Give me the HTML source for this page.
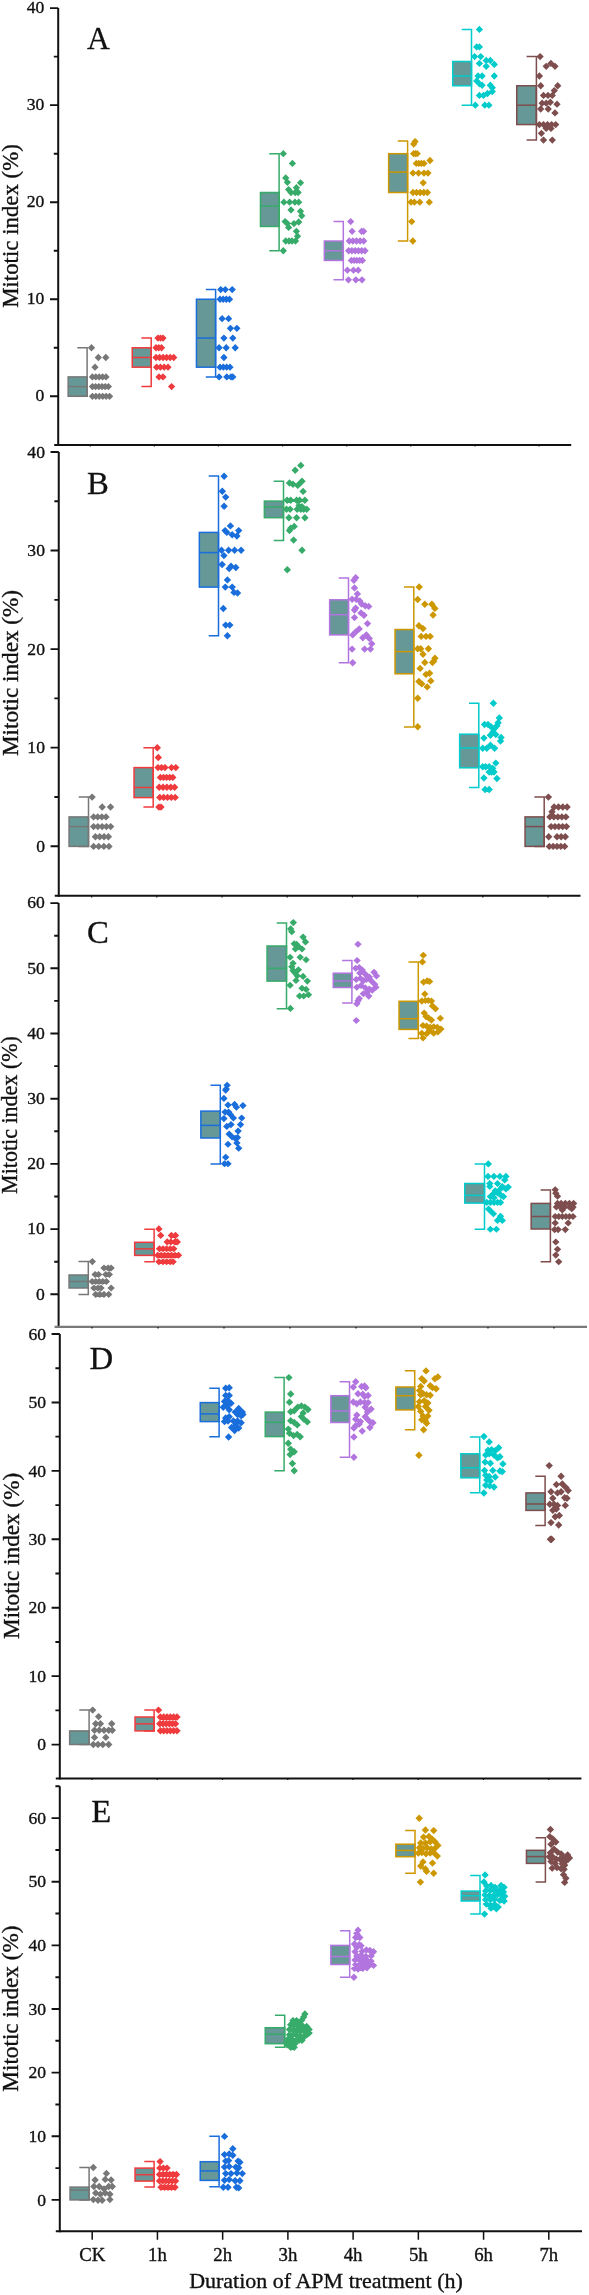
<!DOCTYPE html>
<html><head><meta charset="utf-8"><title>Mitotic index</title>
<style>
html,body{margin:0;padding:0;background:#fff;}
body{width:589px;height:2295px;overflow:hidden;}
svg{display:block;font-family:"Liberation Serif",serif;fill:#000;will-change:transform;}
svg text{fill:#111;stroke:#111;stroke-width:0.35px;}
svg text.L{stroke-width:0.3px;}
</style></head><body>
<svg width="589" height="2295" viewBox="0 0 589 2295">
<rect width="589" height="2295" fill="#fff"/>
<rect x="68.15" y="376.89" width="18.95" height="19.41" fill="#659896" stroke="#777777" stroke-width="1.5"/>
<path d="M68.15 386.6H87.1" stroke="#777777" stroke-width="1.5" fill="none"/>
<path d="M77.3 347.78H87.1V396.3H77.3" stroke="#777777" stroke-width="1.5" fill="none"/>
<path fill="#777777" d="M91.5 344.11l3.64 3.66 -3.64 3.66 -3.64 -3.66zM98.3 353.82l3.64 3.66 -3.64 3.66 -3.64 -3.66zM105.8 353.82l3.64 3.66 -3.64 3.66 -3.64 -3.66zM95 363.52l3.64 3.66 -3.64 3.66 -3.64 -3.66zM92.4 373.23l3.64 3.66 -3.64 3.66 -3.64 -3.66zM95.8 373.23l3.64 3.66 -3.64 3.66 -3.64 -3.66zM99.2 373.23l3.64 3.66 -3.64 3.66 -3.64 -3.66zM102.6 373.23l3.64 3.66 -3.64 3.66 -3.64 -3.66zM106 373.23l3.64 3.66 -3.64 3.66 -3.64 -3.66zM92.4 382.93l3.64 3.66 -3.64 3.66 -3.64 -3.66zM95.6 382.93l3.64 3.66 -3.64 3.66 -3.64 -3.66zM98.8 382.93l3.64 3.66 -3.64 3.66 -3.64 -3.66zM102 382.93l3.64 3.66 -3.64 3.66 -3.64 -3.66zM105.2 382.93l3.64 3.66 -3.64 3.66 -3.64 -3.66zM108.4 382.93l3.64 3.66 -3.64 3.66 -3.64 -3.66zM92.4 392.64l3.64 3.66 -3.64 3.66 -3.64 -3.66zM95.84 392.64l3.64 3.66 -3.64 3.66 -3.64 -3.66zM99.28 392.64l3.64 3.66 -3.64 3.66 -3.64 -3.66zM102.72 392.64l3.64 3.66 -3.64 3.66 -3.64 -3.66zM106.16 392.64l3.64 3.66 -3.64 3.66 -3.64 -3.66zM109.6 392.64l3.64 3.66 -3.64 3.66 -3.64 -3.66z"/>
<rect x="132.25" y="347.78" width="18.95" height="19.41" fill="#659896" stroke="#ef3b3d" stroke-width="1.5"/>
<path d="M132.25 357.48H151.2" stroke="#ef3b3d" stroke-width="1.5" fill="none"/>
<path d="M141.4 338.07H151.2V386.6H141.4" stroke="#ef3b3d" stroke-width="1.5" fill="none"/>
<path fill="#ef3b3d" d="M158 334.41l3.64 3.66 -3.64 3.66 -3.64 -3.66zM160.5 334.41l3.64 3.66 -3.64 3.66 -3.64 -3.66zM163 334.41l3.64 3.66 -3.64 3.66 -3.64 -3.66zM156 344.11l3.64 3.66 -3.64 3.66 -3.64 -3.66zM158.75 344.11l3.64 3.66 -3.64 3.66 -3.64 -3.66zM161.5 344.11l3.64 3.66 -3.64 3.66 -3.64 -3.66zM156 353.82l3.64 3.66 -3.64 3.66 -3.64 -3.66zM159.54 353.82l3.64 3.66 -3.64 3.66 -3.64 -3.66zM163.08 353.82l3.64 3.66 -3.64 3.66 -3.64 -3.66zM166.62 353.82l3.64 3.66 -3.64 3.66 -3.64 -3.66zM170.16 353.82l3.64 3.66 -3.64 3.66 -3.64 -3.66zM173.7 353.82l3.64 3.66 -3.64 3.66 -3.64 -3.66zM156.6 363.52l3.64 3.66 -3.64 3.66 -3.64 -3.66zM160.4 363.52l3.64 3.66 -3.64 3.66 -3.64 -3.66zM164.2 363.52l3.64 3.66 -3.64 3.66 -3.64 -3.66zM168 363.52l3.64 3.66 -3.64 3.66 -3.64 -3.66zM159 373.23l3.64 3.66 -3.64 3.66 -3.64 -3.66zM163 373.23l3.64 3.66 -3.64 3.66 -3.64 -3.66zM171.6 382.93l3.64 3.66 -3.64 3.66 -3.64 -3.66z"/>
<rect x="196.45" y="299.25" width="19.15" height="67.94" fill="#659896" stroke="#1a6edc" stroke-width="1.5"/>
<path d="M196.45 338.07H215.6" stroke="#1a6edc" stroke-width="1.5" fill="none"/>
<path d="M205.8 289.55H215.6V376.89H205.8" stroke="#1a6edc" stroke-width="1.5" fill="none"/>
<path fill="#1a6edc" d="M220.7 285.88l3.64 3.66 -3.64 3.66 -3.64 -3.66zM225.3 285.88l3.64 3.66 -3.64 3.66 -3.64 -3.66zM232.2 285.88l3.64 3.66 -3.64 3.66 -3.64 -3.66zM220 295.59l3.64 3.66 -3.64 3.66 -3.64 -3.66zM223.17 295.59l3.64 3.66 -3.64 3.66 -3.64 -3.66zM226.33 295.59l3.64 3.66 -3.64 3.66 -3.64 -3.66zM229.5 295.59l3.64 3.66 -3.64 3.66 -3.64 -3.66zM222.1 315l3.64 3.66 -3.64 3.66 -3.64 -3.66zM228.6 315l3.64 3.66 -3.64 3.66 -3.64 -3.66zM230.4 324.7l3.64 3.66 -3.64 3.66 -3.64 -3.66zM236.9 324.7l3.64 3.66 -3.64 3.66 -3.64 -3.66zM223.9 334.41l3.64 3.66 -3.64 3.66 -3.64 -3.66zM232.8 334.41l3.64 3.66 -3.64 3.66 -3.64 -3.66zM219.1 344.11l3.64 3.66 -3.64 3.66 -3.64 -3.66zM226.2 344.11l3.64 3.66 -3.64 3.66 -3.64 -3.66zM235.2 344.11l3.64 3.66 -3.64 3.66 -3.64 -3.66zM223.9 353.82l3.64 3.66 -3.64 3.66 -3.64 -3.66zM220 363.52l3.64 3.66 -3.64 3.66 -3.64 -3.66zM223.33 363.52l3.64 3.66 -3.64 3.66 -3.64 -3.66zM226.67 363.52l3.64 3.66 -3.64 3.66 -3.64 -3.66zM230 363.52l3.64 3.66 -3.64 3.66 -3.64 -3.66zM219.1 373.23l3.64 3.66 -3.64 3.66 -3.64 -3.66zM226.8 373.23l3.64 3.66 -3.64 3.66 -3.64 -3.66zM231 373.23l3.64 3.66 -3.64 3.66 -3.64 -3.66zM232.8 373.23l3.64 3.66 -3.64 3.66 -3.64 -3.66z"/>
<rect x="260.45" y="192.5" width="18.65" height="33.97" fill="#659896" stroke="#37ab69" stroke-width="1.5"/>
<path d="M260.45 206.08H279.1" stroke="#37ab69" stroke-width="1.5" fill="none"/>
<path d="M269.3 153.68H279.1V250.73H269.3" stroke="#37ab69" stroke-width="1.5" fill="none"/>
<path fill="#37ab69" d="M283.3 150.01l3.64 3.66 -3.64 3.66 -3.64 -3.66zM292.4 159.72l3.64 3.66 -3.64 3.66 -3.64 -3.66zM285.7 174.27l3.64 3.66 -3.64 3.66 -3.64 -3.66zM287.4 178.64l3.64 3.66 -3.64 3.66 -3.64 -3.66zM300.5 179.13l3.64 3.66 -3.64 3.66 -3.64 -3.66zM288.6 185.92l3.64 3.66 -3.64 3.66 -3.64 -3.66zM296.4 183.98l3.64 3.66 -3.64 3.66 -3.64 -3.66zM291 188.83l3.64 3.66 -3.64 3.66 -3.64 -3.66zM295.2 188.83l3.64 3.66 -3.64 3.66 -3.64 -3.66zM298.1 188.83l3.64 3.66 -3.64 3.66 -3.64 -3.66zM283.9 198.54l3.64 3.66 -3.64 3.66 -3.64 -3.66zM289.6 198.54l3.64 3.66 -3.64 3.66 -3.64 -3.66zM294.9 198.54l3.64 3.66 -3.64 3.66 -3.64 -3.66zM298.7 198.54l3.64 3.66 -3.64 3.66 -3.64 -3.66zM291 206.3l3.64 3.66 -3.64 3.66 -3.64 -3.66zM300.5 207.66l3.64 3.66 -3.64 3.66 -3.64 -3.66zM301.7 212.12l3.64 3.66 -3.64 3.66 -3.64 -3.66zM285.1 217.95l3.64 3.66 -3.64 3.66 -3.64 -3.66zM287.4 219.89l3.64 3.66 -3.64 3.66 -3.64 -3.66zM288.6 223.77l3.64 3.66 -3.64 3.66 -3.64 -3.66zM294 219.89l3.64 3.66 -3.64 3.66 -3.64 -3.66zM298.7 218.34l3.64 3.66 -3.64 3.66 -3.64 -3.66zM296.4 227.65l3.64 3.66 -3.64 3.66 -3.64 -3.66zM297.5 232.5l3.64 3.66 -3.64 3.66 -3.64 -3.66zM285.7 237.36l3.64 3.66 -3.64 3.66 -3.64 -3.66zM289 237.36l3.64 3.66 -3.64 3.66 -3.64 -3.66zM292 237.36l3.64 3.66 -3.64 3.66 -3.64 -3.66zM295.5 237.36l3.64 3.66 -3.64 3.66 -3.64 -3.66zM283.3 247.06l3.64 3.66 -3.64 3.66 -3.64 -3.66z"/>
<rect x="324.35" y="241.02" width="18.95" height="19.41" fill="#659896" stroke="#b274de" stroke-width="1.5"/>
<path d="M324.35 250.73H343.3" stroke="#b274de" stroke-width="1.5" fill="none"/>
<path d="M333.5 221.61H343.3V279.84H333.5" stroke="#b274de" stroke-width="1.5" fill="none"/>
<path fill="#b274de" d="M350.7 217.95l3.64 3.66 -3.64 3.66 -3.64 -3.66zM352.1 227.65l3.64 3.66 -3.64 3.66 -3.64 -3.66zM361.6 227.65l3.64 3.66 -3.64 3.66 -3.64 -3.66zM363.6 227.65l3.64 3.66 -3.64 3.66 -3.64 -3.66zM349.3 237.36l3.64 3.66 -3.64 3.66 -3.64 -3.66zM352.9 237.36l3.64 3.66 -3.64 3.66 -3.64 -3.66zM356.5 237.36l3.64 3.66 -3.64 3.66 -3.64 -3.66zM360.1 237.36l3.64 3.66 -3.64 3.66 -3.64 -3.66zM363.7 237.36l3.64 3.66 -3.64 3.66 -3.64 -3.66zM348.6 247.06l3.64 3.66 -3.64 3.66 -3.64 -3.66zM351.88 247.06l3.64 3.66 -3.64 3.66 -3.64 -3.66zM355.16 247.06l3.64 3.66 -3.64 3.66 -3.64 -3.66zM358.44 247.06l3.64 3.66 -3.64 3.66 -3.64 -3.66zM361.72 247.06l3.64 3.66 -3.64 3.66 -3.64 -3.66zM365 247.06l3.64 3.66 -3.64 3.66 -3.64 -3.66zM351.3 256.77l3.64 3.66 -3.64 3.66 -3.64 -3.66zM354.07 256.77l3.64 3.66 -3.64 3.66 -3.64 -3.66zM356.85 256.77l3.64 3.66 -3.64 3.66 -3.64 -3.66zM359.62 256.77l3.64 3.66 -3.64 3.66 -3.64 -3.66zM362.4 256.77l3.64 3.66 -3.64 3.66 -3.64 -3.66zM347.4 266.47l3.64 3.66 -3.64 3.66 -3.64 -3.66zM353.5 266.47l3.64 3.66 -3.64 3.66 -3.64 -3.66zM358.2 266.47l3.64 3.66 -3.64 3.66 -3.64 -3.66zM348.4 276.18l3.64 3.66 -3.64 3.66 -3.64 -3.66zM355.8 276.18l3.64 3.66 -3.64 3.66 -3.64 -3.66zM362 276.18l3.64 3.66 -3.64 3.66 -3.64 -3.66z"/>
<rect x="388.65" y="153.68" width="18.95" height="38.82" fill="#659896" stroke="#cd9700" stroke-width="1.5"/>
<path d="M388.65 172.11H407.6" stroke="#cd9700" stroke-width="1.5" fill="none"/>
<path d="M397.8 141.06H407.6V241.02H397.8" stroke="#cd9700" stroke-width="1.5" fill="none"/>
<path fill="#cd9700" d="M415.1 137.88l3.64 3.66 -3.64 3.66 -3.64 -3.66zM413.7 140.31l3.64 3.66 -3.64 3.66 -3.64 -3.66zM413.6 150.01l3.64 3.66 -3.64 3.66 -3.64 -3.66zM415.4 150.01l3.64 3.66 -3.64 3.66 -3.64 -3.66zM417.2 150.01l3.64 3.66 -3.64 3.66 -3.64 -3.66zM430 156.81l3.64 3.66 -3.64 3.66 -3.64 -3.66zM416.3 159.72l3.64 3.66 -3.64 3.66 -3.64 -3.66zM418.87 159.72l3.64 3.66 -3.64 3.66 -3.64 -3.66zM421.43 159.72l3.64 3.66 -3.64 3.66 -3.64 -3.66zM424 159.72l3.64 3.66 -3.64 3.66 -3.64 -3.66zM413 169.42l3.64 3.66 -3.64 3.66 -3.64 -3.66zM418.5 169.42l3.64 3.66 -3.64 3.66 -3.64 -3.66zM424 169.42l3.64 3.66 -3.64 3.66 -3.64 -3.66zM428 169.42l3.64 3.66 -3.64 3.66 -3.64 -3.66zM423.2 179.13l3.64 3.66 -3.64 3.66 -3.64 -3.66zM413 188.83l3.64 3.66 -3.64 3.66 -3.64 -3.66zM416.6 188.83l3.64 3.66 -3.64 3.66 -3.64 -3.66zM420.2 188.83l3.64 3.66 -3.64 3.66 -3.64 -3.66zM423.8 188.83l3.64 3.66 -3.64 3.66 -3.64 -3.66zM427.4 188.83l3.64 3.66 -3.64 3.66 -3.64 -3.66zM411 198.54l3.64 3.66 -3.64 3.66 -3.64 -3.66zM414.4 198.54l3.64 3.66 -3.64 3.66 -3.64 -3.66zM419.8 198.54l3.64 3.66 -3.64 3.66 -3.64 -3.66zM429.3 198.54l3.64 3.66 -3.64 3.66 -3.64 -3.66zM411.7 217.95l3.64 3.66 -3.64 3.66 -3.64 -3.66zM412.8 237.36l3.64 3.66 -3.64 3.66 -3.64 -3.66z"/>
<rect x="452.75" y="61.48" width="18.75" height="24.26" fill="#659896" stroke="#02cbcc" stroke-width="1.5"/>
<path d="M452.75 76.04H471.5" stroke="#02cbcc" stroke-width="1.5" fill="none"/>
<path d="M461.7 29.45H471.5V105.15H461.7" stroke="#02cbcc" stroke-width="1.5" fill="none"/>
<path fill="#02cbcc" d="M479.4 25.79l3.64 3.66 -3.64 3.66 -3.64 -3.66zM476.7 43.26l3.64 3.66 -3.64 3.66 -3.64 -3.66zM479.4 43.26l3.64 3.66 -3.64 3.66 -3.64 -3.66zM474.6 52.96l3.64 3.66 -3.64 3.66 -3.64 -3.66zM480.7 52.96l3.64 3.66 -3.64 3.66 -3.64 -3.66zM479.4 59.76l3.64 3.66 -3.64 3.66 -3.64 -3.66zM486.2 56.84l3.64 3.66 -3.64 3.66 -3.64 -3.66zM490.3 56.84l3.64 3.66 -3.64 3.66 -3.64 -3.66zM494.3 60.73l3.64 3.66 -3.64 3.66 -3.64 -3.66zM486.2 62.67l3.64 3.66 -3.64 3.66 -3.64 -3.66zM478 72.37l3.64 3.66 -3.64 3.66 -3.64 -3.66zM482.1 72.37l3.64 3.66 -3.64 3.66 -3.64 -3.66zM494.3 72.37l3.64 3.66 -3.64 3.66 -3.64 -3.66zM476.7 77.22l3.64 3.66 -3.64 3.66 -3.64 -3.66zM479.4 80.14l3.64 3.66 -3.64 3.66 -3.64 -3.66zM482.1 81.59l3.64 3.66 -3.64 3.66 -3.64 -3.66zM490.3 81.59l3.64 3.66 -3.64 3.66 -3.64 -3.66zM492.3 84.02l3.64 3.66 -3.64 3.66 -3.64 -3.66zM479.4 91.78l3.64 3.66 -3.64 3.66 -3.64 -3.66zM483.5 91.78l3.64 3.66 -3.64 3.66 -3.64 -3.66zM487.5 89.84l3.64 3.66 -3.64 3.66 -3.64 -3.66zM492.3 87.9l3.64 3.66 -3.64 3.66 -3.64 -3.66zM475.3 101.49l3.64 3.66 -3.64 3.66 -3.64 -3.66zM484.8 101.49l3.64 3.66 -3.64 3.66 -3.64 -3.66zM488.9 101.49l3.64 3.66 -3.64 3.66 -3.64 -3.66z"/>
<rect x="516.75" y="85.74" width="19.65" height="38.82" fill="#659896" stroke="#7e4d4d" stroke-width="1.5"/>
<path d="M516.75 105.15H536.4" stroke="#7e4d4d" stroke-width="1.5" fill="none"/>
<path d="M526.6 56.62H536.4V140.09H526.6" stroke="#7e4d4d" stroke-width="1.5" fill="none"/>
<path fill="#7e4d4d" d="M540.1 52.96l3.64 3.66 -3.64 3.66 -3.64 -3.66zM546.2 62.67l3.64 3.66 -3.64 3.66 -3.64 -3.66zM550.9 59.76l3.64 3.66 -3.64 3.66 -3.64 -3.66zM555 62.67l3.64 3.66 -3.64 3.66 -3.64 -3.66zM539.4 72.37l3.64 3.66 -3.64 3.66 -3.64 -3.66zM540.7 82.08l3.64 3.66 -3.64 3.66 -3.64 -3.66zM557.7 82.08l3.64 3.66 -3.64 3.66 -3.64 -3.66zM554.3 86.93l3.64 3.66 -3.64 3.66 -3.64 -3.66zM543.5 91.78l3.64 3.66 -3.64 3.66 -3.64 -3.66zM548 91.78l3.64 3.66 -3.64 3.66 -3.64 -3.66zM552.3 91.78l3.64 3.66 -3.64 3.66 -3.64 -3.66zM542.1 99.55l3.64 3.66 -3.64 3.66 -3.64 -3.66zM546.2 99.55l3.64 3.66 -3.64 3.66 -3.64 -3.66zM550.3 98.58l3.64 3.66 -3.64 3.66 -3.64 -3.66zM557 100.52l3.64 3.66 -3.64 3.66 -3.64 -3.66zM540.7 105.37l3.64 3.66 -3.64 3.66 -3.64 -3.66zM548.2 105.37l3.64 3.66 -3.64 3.66 -3.64 -3.66zM555 109.25l3.64 3.66 -3.64 3.66 -3.64 -3.66zM539.4 120.9l3.64 3.66 -3.64 3.66 -3.64 -3.66zM543.48 120.9l3.64 3.66 -3.64 3.66 -3.64 -3.66zM547.55 120.9l3.64 3.66 -3.64 3.66 -3.64 -3.66zM551.62 120.9l3.64 3.66 -3.64 3.66 -3.64 -3.66zM555.7 120.9l3.64 3.66 -3.64 3.66 -3.64 -3.66zM546.2 124.78l3.64 3.66 -3.64 3.66 -3.64 -3.66zM551 124.78l3.64 3.66 -3.64 3.66 -3.64 -3.66zM541.4 129.63l3.64 3.66 -3.64 3.66 -3.64 -3.66zM543.5 136.43l3.64 3.66 -3.64 3.66 -3.64 -3.66zM552.3 136.43l3.64 3.66 -3.64 3.66 -3.64 -3.66z"/>
<path d="M58.2 8.1V446" stroke="#111" stroke-width="2" fill="none"/>
<path d="M54.2 445H571.2" stroke="#111" stroke-width="2" fill="none"/>
<path d="M50 396.3H58.2M53.8 347.78H58.2M50 299.25H58.2M53.8 250.73H58.2M50 202.2H58.2M53.8 153.68H58.2M50 105.15H58.2M53.8 56.62H58.2M50 8.1H58.2" stroke="#111" stroke-width="1.9" fill="none"/>
<text transform="translate(44.4 400.87) scale(1 0.985)" text-anchor="end" font-size="17.6">0</text>
<text transform="translate(44.4 303.82) scale(1 0.985)" text-anchor="end" font-size="17.6">10</text>
<text transform="translate(44.4 206.77) scale(1 0.985)" text-anchor="end" font-size="17.6">20</text>
<text transform="translate(44.4 109.72) scale(1 0.985)" text-anchor="end" font-size="17.6">30</text>
<text transform="translate(44.4 12.67) scale(1 0.985)" text-anchor="end" font-size="17.6">40</text>
<path d="M90.3 445v1.6M154.4 445v1.6M218.5 445v1.6M282.6 445v1.6M346.7 445v1.6M410.8 445v1.6M474.9 445v1.6M539 445v1.6" stroke="#111" stroke-width="1.2" fill="none"/>
<text class="L" transform="translate(87 48.7) scale(1.0 1)" font-size="31.5">A</text>
<text transform="translate(18 226) rotate(-90) scale(0.985 1)" text-anchor="middle" font-size="23.2">Mitotic index (%)</text>
<rect x="69.05" y="816.9" width="19.45" height="29.5" fill="#659896" stroke="#777777" stroke-width="1.5"/>
<path d="M69.05 826.6H88.5" stroke="#777777" stroke-width="1.5" fill="none"/>
<path d="M78.7 797.1H88.5V846.4H78.7" stroke="#777777" stroke-width="1.5" fill="none"/>
<path fill="#777777" d="M92.1 793.4l3.7 3.7 -3.7 3.7 -3.7 -3.7zM102.2 803.3l3.7 3.7 -3.7 3.7 -3.7 -3.7zM110.5 803.3l3.7 3.7 -3.7 3.7 -3.7 -3.7zM93.6 813.2l3.7 3.7 -3.7 3.7 -3.7 -3.7zM97.73 813.2l3.7 3.7 -3.7 3.7 -3.7 -3.7zM101.87 813.2l3.7 3.7 -3.7 3.7 -3.7 -3.7zM106 813.2l3.7 3.7 -3.7 3.7 -3.7 -3.7zM93.6 822.9l3.7 3.7 -3.7 3.7 -3.7 -3.7zM97.88 822.9l3.7 3.7 -3.7 3.7 -3.7 -3.7zM102.15 822.9l3.7 3.7 -3.7 3.7 -3.7 -3.7zM106.42 822.9l3.7 3.7 -3.7 3.7 -3.7 -3.7zM110.7 822.9l3.7 3.7 -3.7 3.7 -3.7 -3.7zM95.4 833l3.7 3.7 -3.7 3.7 -3.7 -3.7zM99.73 833l3.7 3.7 -3.7 3.7 -3.7 -3.7zM104.07 833l3.7 3.7 -3.7 3.7 -3.7 -3.7zM108.4 833l3.7 3.7 -3.7 3.7 -3.7 -3.7zM93.6 842.7l3.7 3.7 -3.7 3.7 -3.7 -3.7zM98.73 842.7l3.7 3.7 -3.7 3.7 -3.7 -3.7zM103.87 842.7l3.7 3.7 -3.7 3.7 -3.7 -3.7zM109 842.7l3.7 3.7 -3.7 3.7 -3.7 -3.7z"/>
<rect x="134.05" y="767.6" width="19.15" height="30" fill="#659896" stroke="#ef3b3d" stroke-width="1.5"/>
<path d="M134.05 787.5H153.2" stroke="#ef3b3d" stroke-width="1.5" fill="none"/>
<path d="M143.4 747.7H153.2V807.1H143.4" stroke="#ef3b3d" stroke-width="1.5" fill="none"/>
<path fill="#ef3b3d" d="M157.3 744l3.7 3.7 -3.7 3.7 -3.7 -3.7zM158.3 753.8l3.7 3.7 -3.7 3.7 -3.7 -3.7zM158 763.9l3.7 3.7 -3.7 3.7 -3.7 -3.7zM161.5 763.9l3.7 3.7 -3.7 3.7 -3.7 -3.7zM165 763.9l3.7 3.7 -3.7 3.7 -3.7 -3.7zM171.5 763.9l3.7 3.7 -3.7 3.7 -3.7 -3.7zM175.8 763.9l3.7 3.7 -3.7 3.7 -3.7 -3.7zM160.4 773.7l3.7 3.7 -3.7 3.7 -3.7 -3.7zM163.5 773.7l3.7 3.7 -3.7 3.7 -3.7 -3.7zM166.6 773.7l3.7 3.7 -3.7 3.7 -3.7 -3.7zM169.7 773.7l3.7 3.7 -3.7 3.7 -3.7 -3.7zM172.8 773.7l3.7 3.7 -3.7 3.7 -3.7 -3.7zM159.2 783.6l3.7 3.7 -3.7 3.7 -3.7 -3.7zM163.05 783.6l3.7 3.7 -3.7 3.7 -3.7 -3.7zM166.9 783.6l3.7 3.7 -3.7 3.7 -3.7 -3.7zM170.75 783.6l3.7 3.7 -3.7 3.7 -3.7 -3.7zM174.6 783.6l3.7 3.7 -3.7 3.7 -3.7 -3.7zM159.8 793.7l3.7 3.7 -3.7 3.7 -3.7 -3.7zM163.65 793.7l3.7 3.7 -3.7 3.7 -3.7 -3.7zM167.5 793.7l3.7 3.7 -3.7 3.7 -3.7 -3.7zM171.35 793.7l3.7 3.7 -3.7 3.7 -3.7 -3.7zM175.2 793.7l3.7 3.7 -3.7 3.7 -3.7 -3.7zM158.9 803.4l3.7 3.7 -3.7 3.7 -3.7 -3.7zM161 803.4l3.7 3.7 -3.7 3.7 -3.7 -3.7z"/>
<rect x="199.35" y="532.4" width="19.15" height="54.7" fill="#659896" stroke="#1a6edc" stroke-width="1.5"/>
<path d="M199.35 552.6H218.5" stroke="#1a6edc" stroke-width="1.5" fill="none"/>
<path d="M208.7 475.9H218.5V635.8H208.7" stroke="#1a6edc" stroke-width="1.5" fill="none"/>
<path fill="#1a6edc" d="M224.1 472.5l3.7 3.7 -3.7 3.7 -3.7 -3.7zM222.3 487.5l3.7 3.7 -3.7 3.7 -3.7 -3.7zM225.7 493.4l3.7 3.7 -3.7 3.7 -3.7 -3.7zM224.1 502.5l3.7 3.7 -3.7 3.7 -3.7 -3.7zM230.4 522.2l3.7 3.7 -3.7 3.7 -3.7 -3.7zM225.1 526.9l3.7 3.7 -3.7 3.7 -3.7 -3.7zM226.8 528.7l3.7 3.7 -3.7 3.7 -3.7 -3.7zM238.7 526.9l3.7 3.7 -3.7 3.7 -3.7 -3.7zM232.2 531.1l3.7 3.7 -3.7 3.7 -3.7 -3.7zM236.9 532.3l3.7 3.7 -3.7 3.7 -3.7 -3.7zM221.5 546.5l3.7 3.7 -3.7 3.7 -3.7 -3.7zM228.6 546.5l3.7 3.7 -3.7 3.7 -3.7 -3.7zM234.6 546.5l3.7 3.7 -3.7 3.7 -3.7 -3.7zM241.1 546.5l3.7 3.7 -3.7 3.7 -3.7 -3.7zM223.9 551.9l3.7 3.7 -3.7 3.7 -3.7 -3.7zM222.1 560.8l3.7 3.7 -3.7 3.7 -3.7 -3.7zM229.2 564.9l3.7 3.7 -3.7 3.7 -3.7 -3.7zM231 562.6l3.7 3.7 -3.7 3.7 -3.7 -3.7zM235.8 563.8l3.7 3.7 -3.7 3.7 -3.7 -3.7zM227.4 576.2l3.7 3.7 -3.7 3.7 -3.7 -3.7zM225.3 583.4l3.7 3.7 -3.7 3.7 -3.7 -3.7zM232.2 583.4l3.7 3.7 -3.7 3.7 -3.7 -3.7zM234 588.7l3.7 3.7 -3.7 3.7 -3.7 -3.7zM237.5 589.3l3.7 3.7 -3.7 3.7 -3.7 -3.7zM223.3 604.8l3.7 3.7 -3.7 3.7 -3.7 -3.7zM225.7 621.4l3.7 3.7 -3.7 3.7 -3.7 -3.7zM229.8 621.4l3.7 3.7 -3.7 3.7 -3.7 -3.7zM227.4 632.1l3.7 3.7 -3.7 3.7 -3.7 -3.7z"/>
<rect x="264.35" y="501.1" width="19.15" height="16.6" fill="#659896" stroke="#37ab69" stroke-width="1.5"/>
<path d="M264.35 506.8H283.5" stroke="#37ab69" stroke-width="1.5" fill="none"/>
<path d="M273.7 481.2H283.5V540.4H273.7" stroke="#37ab69" stroke-width="1.5" fill="none"/>
<path fill="#37ab69" d="M300.8 461.7l3.7 3.7 -3.7 3.7 -3.7 -3.7zM295.2 466.5l3.7 3.7 -3.7 3.7 -3.7 -3.7zM289.5 479.3l3.7 3.7 -3.7 3.7 -3.7 -3.7zM293 480.5l3.7 3.7 -3.7 3.7 -3.7 -3.7zM297.8 481.7l3.7 3.7 -3.7 3.7 -3.7 -3.7zM302 477.5l3.7 3.7 -3.7 3.7 -3.7 -3.7zM300.2 479.3l3.7 3.7 -3.7 3.7 -3.7 -3.7zM303.1 487.7l3.7 3.7 -3.7 3.7 -3.7 -3.7zM287.1 496.6l3.7 3.7 -3.7 3.7 -3.7 -3.7zM290.7 496.6l3.7 3.7 -3.7 3.7 -3.7 -3.7zM296.6 496.6l3.7 3.7 -3.7 3.7 -3.7 -3.7zM299.6 496.6l3.7 3.7 -3.7 3.7 -3.7 -3.7zM304.9 496.6l3.7 3.7 -3.7 3.7 -3.7 -3.7zM286.5 505.5l3.7 3.7 -3.7 3.7 -3.7 -3.7zM290.1 505.5l3.7 3.7 -3.7 3.7 -3.7 -3.7zM297.2 505.5l3.7 3.7 -3.7 3.7 -3.7 -3.7zM300.8 505.5l3.7 3.7 -3.7 3.7 -3.7 -3.7zM303.7 505.5l3.7 3.7 -3.7 3.7 -3.7 -3.7zM306.7 505.5l3.7 3.7 -3.7 3.7 -3.7 -3.7zM299 501.9l3.7 3.7 -3.7 3.7 -3.7 -3.7zM302 503.1l3.7 3.7 -3.7 3.7 -3.7 -3.7zM288.9 514l3.7 3.7 -3.7 3.7 -3.7 -3.7zM296.6 514l3.7 3.7 -3.7 3.7 -3.7 -3.7zM304.9 514l3.7 3.7 -3.7 3.7 -3.7 -3.7zM294.2 522.7l3.7 3.7 -3.7 3.7 -3.7 -3.7zM290.7 524.5l3.7 3.7 -3.7 3.7 -3.7 -3.7zM289.5 526.9l3.7 3.7 -3.7 3.7 -3.7 -3.7zM293.6 536.4l3.7 3.7 -3.7 3.7 -3.7 -3.7zM302 546.5l3.7 3.7 -3.7 3.7 -3.7 -3.7zM287.3 566.1l3.7 3.7 -3.7 3.7 -3.7 -3.7z"/>
<rect x="329.65" y="599.8" width="18.85" height="35.1" fill="#659896" stroke="#b274de" stroke-width="1.5"/>
<path d="M329.65 614.7H348.5" stroke="#b274de" stroke-width="1.5" fill="none"/>
<path d="M338.7 578.1H348.5V662.8H338.7" stroke="#b274de" stroke-width="1.5" fill="none"/>
<path fill="#b274de" d="M355.7 574.1l3.7 3.7 -3.7 3.7 -3.7 -3.7zM353.9 576.5l3.7 3.7 -3.7 3.7 -3.7 -3.7zM354.5 584.2l3.7 3.7 -3.7 3.7 -3.7 -3.7zM357.4 590.2l3.7 3.7 -3.7 3.7 -3.7 -3.7zM352.1 595.5l3.7 3.7 -3.7 3.7 -3.7 -3.7zM356.2 595.5l3.7 3.7 -3.7 3.7 -3.7 -3.7zM359.8 597.3l3.7 3.7 -3.7 3.7 -3.7 -3.7zM361.6 600.3l3.7 3.7 -3.7 3.7 -3.7 -3.7zM365.2 602.1l3.7 3.7 -3.7 3.7 -3.7 -3.7zM368.7 602.7l3.7 3.7 -3.7 3.7 -3.7 -3.7zM355.7 604.4l3.7 3.7 -3.7 3.7 -3.7 -3.7zM354.5 606.3l3.7 3.7 -3.7 3.7 -3.7 -3.7zM361 609.2l3.7 3.7 -3.7 3.7 -3.7 -3.7zM364 611.6l3.7 3.7 -3.7 3.7 -3.7 -3.7zM354.5 613.9l3.7 3.7 -3.7 3.7 -3.7 -3.7zM367.5 619.9l3.7 3.7 -3.7 3.7 -3.7 -3.7zM359.2 625.2l3.7 3.7 -3.7 3.7 -3.7 -3.7zM355.7 628.2l3.7 3.7 -3.7 3.7 -3.7 -3.7zM352.7 631.2l3.7 3.7 -3.7 3.7 -3.7 -3.7zM366.4 631.2l3.7 3.7 -3.7 3.7 -3.7 -3.7zM362.8 634.1l3.7 3.7 -3.7 3.7 -3.7 -3.7zM369.3 634.7l3.7 3.7 -3.7 3.7 -3.7 -3.7zM371.7 640.1l3.7 3.7 -3.7 3.7 -3.7 -3.7zM352.1 645.4l3.7 3.7 -3.7 3.7 -3.7 -3.7zM364.6 645.4l3.7 3.7 -3.7 3.7 -3.7 -3.7zM370.5 645.4l3.7 3.7 -3.7 3.7 -3.7 -3.7zM352.7 659.1l3.7 3.7 -3.7 3.7 -3.7 -3.7z"/>
<rect x="395.05" y="629.5" width="18.75" height="44.3" fill="#659896" stroke="#cd9700" stroke-width="1.5"/>
<path d="M395.05 651.6H413.8" stroke="#cd9700" stroke-width="1.5" fill="none"/>
<path d="M404 587H413.8V726.9H404" stroke="#cd9700" stroke-width="1.5" fill="none"/>
<path fill="#cd9700" d="M419.2 583.3l3.7 3.7 -3.7 3.7 -3.7 -3.7zM417.7 595.8l3.7 3.7 -3.7 3.7 -3.7 -3.7zM424.8 600.6l3.7 3.7 -3.7 3.7 -3.7 -3.7zM431.9 600.6l3.7 3.7 -3.7 3.7 -3.7 -3.7zM434.9 604.7l3.7 3.7 -3.7 3.7 -3.7 -3.7zM433.1 611.3l3.7 3.7 -3.7 3.7 -3.7 -3.7zM418.9 622l3.7 3.7 -3.7 3.7 -3.7 -3.7zM423 624.9l3.7 3.7 -3.7 3.7 -3.7 -3.7zM421.2 632.7l3.7 3.7 -3.7 3.7 -3.7 -3.7zM426 632.7l3.7 3.7 -3.7 3.7 -3.7 -3.7zM430.2 632.7l3.7 3.7 -3.7 3.7 -3.7 -3.7zM417.7 645.1l3.7 3.7 -3.7 3.7 -3.7 -3.7zM420.7 645.1l3.7 3.7 -3.7 3.7 -3.7 -3.7zM428.4 645.1l3.7 3.7 -3.7 3.7 -3.7 -3.7zM423 650.5l3.7 3.7 -3.7 3.7 -3.7 -3.7zM434.9 654.6l3.7 3.7 -3.7 3.7 -3.7 -3.7zM433.7 657.6l3.7 3.7 -3.7 3.7 -3.7 -3.7zM432.5 658.8l3.7 3.7 -3.7 3.7 -3.7 -3.7zM424.8 658.8l3.7 3.7 -3.7 3.7 -3.7 -3.7zM420.1 664.7l3.7 3.7 -3.7 3.7 -3.7 -3.7zM426 670.7l3.7 3.7 -3.7 3.7 -3.7 -3.7zM429.6 669.5l3.7 3.7 -3.7 3.7 -3.7 -3.7zM430.8 677.2l3.7 3.7 -3.7 3.7 -3.7 -3.7zM418.9 677.8l3.7 3.7 -3.7 3.7 -3.7 -3.7zM421.8 680.2l3.7 3.7 -3.7 3.7 -3.7 -3.7zM427.2 683.2l3.7 3.7 -3.7 3.7 -3.7 -3.7zM417.7 694.5l3.7 3.7 -3.7 3.7 -3.7 -3.7zM417.7 723l3.7 3.7 -3.7 3.7 -3.7 -3.7z"/>
<rect x="459.65" y="734.2" width="19.15" height="33.6" fill="#659896" stroke="#02cbcc" stroke-width="1.5"/>
<path d="M459.65 748H478.8" stroke="#02cbcc" stroke-width="1.5" fill="none"/>
<path d="M469 703.3H478.8V787.5H469" stroke="#02cbcc" stroke-width="1.5" fill="none"/>
<path fill="#02cbcc" d="M493.4 699.6l3.7 3.7 -3.7 3.7 -3.7 -3.7zM499.3 714.2l3.7 3.7 -3.7 3.7 -3.7 -3.7zM498.1 719l3.7 3.7 -3.7 3.7 -3.7 -3.7zM484.5 720.8l3.7 3.7 -3.7 3.7 -3.7 -3.7zM488 720.8l3.7 3.7 -3.7 3.7 -3.7 -3.7zM491 723.1l3.7 3.7 -3.7 3.7 -3.7 -3.7zM496.9 722l3.7 3.7 -3.7 3.7 -3.7 -3.7zM494.6 724.9l3.7 3.7 -3.7 3.7 -3.7 -3.7zM492.8 728.5l3.7 3.7 -3.7 3.7 -3.7 -3.7zM490.4 731.5l3.7 3.7 -3.7 3.7 -3.7 -3.7zM495.8 730.9l3.7 3.7 -3.7 3.7 -3.7 -3.7zM483.9 734.4l3.7 3.7 -3.7 3.7 -3.7 -3.7zM501.1 733.8l3.7 3.7 -3.7 3.7 -3.7 -3.7zM500.5 737.4l3.7 3.7 -3.7 3.7 -3.7 -3.7zM482.7 744.5l3.7 3.7 -3.7 3.7 -3.7 -3.7zM486.8 744.5l3.7 3.7 -3.7 3.7 -3.7 -3.7zM490.4 741.6l3.7 3.7 -3.7 3.7 -3.7 -3.7zM494.6 744.5l3.7 3.7 -3.7 3.7 -3.7 -3.7zM495.8 759.4l3.7 3.7 -3.7 3.7 -3.7 -3.7zM482.7 763l3.7 3.7 -3.7 3.7 -3.7 -3.7zM485.7 763l3.7 3.7 -3.7 3.7 -3.7 -3.7zM489.2 763l3.7 3.7 -3.7 3.7 -3.7 -3.7zM492.8 764.7l3.7 3.7 -3.7 3.7 -3.7 -3.7zM489.2 768.3l3.7 3.7 -3.7 3.7 -3.7 -3.7zM491.6 768.3l3.7 3.7 -3.7 3.7 -3.7 -3.7zM494 768.3l3.7 3.7 -3.7 3.7 -3.7 -3.7zM483.9 774.3l3.7 3.7 -3.7 3.7 -3.7 -3.7zM496.9 774.8l3.7 3.7 -3.7 3.7 -3.7 -3.7zM485.1 785.8l3.7 3.7 -3.7 3.7 -3.7 -3.7zM489.2 785.8l3.7 3.7 -3.7 3.7 -3.7 -3.7z"/>
<rect x="525.05" y="816.9" width="19.15" height="29.5" fill="#659896" stroke="#7e4d4d" stroke-width="1.5"/>
<path d="M525.05 826.6H544.2" stroke="#7e4d4d" stroke-width="1.5" fill="none"/>
<path d="M534.4 797.1H544.2V846.4H534.4" stroke="#7e4d4d" stroke-width="1.5" fill="none"/>
<path fill="#7e4d4d" d="M548.4 793.4l3.7 3.7 -3.7 3.7 -3.7 -3.7zM554.1 803.3l3.7 3.7 -3.7 3.7 -3.7 -3.7zM558.43 803.3l3.7 3.7 -3.7 3.7 -3.7 -3.7zM562.77 803.3l3.7 3.7 -3.7 3.7 -3.7 -3.7zM567.1 803.3l3.7 3.7 -3.7 3.7 -3.7 -3.7zM552 808l3.7 3.7 -3.7 3.7 -3.7 -3.7zM549.9 813.2l3.7 3.7 -3.7 3.7 -3.7 -3.7zM553.9 813.2l3.7 3.7 -3.7 3.7 -3.7 -3.7zM557.9 813.2l3.7 3.7 -3.7 3.7 -3.7 -3.7zM561.9 813.2l3.7 3.7 -3.7 3.7 -3.7 -3.7zM565.9 813.2l3.7 3.7 -3.7 3.7 -3.7 -3.7zM551.1 822.9l3.7 3.7 -3.7 3.7 -3.7 -3.7zM554.95 822.9l3.7 3.7 -3.7 3.7 -3.7 -3.7zM558.8 822.9l3.7 3.7 -3.7 3.7 -3.7 -3.7zM562.65 822.9l3.7 3.7 -3.7 3.7 -3.7 -3.7zM566.5 822.9l3.7 3.7 -3.7 3.7 -3.7 -3.7zM548.7 833l3.7 3.7 -3.7 3.7 -3.7 -3.7zM557 833l3.7 3.7 -3.7 3.7 -3.7 -3.7zM561.15 833l3.7 3.7 -3.7 3.7 -3.7 -3.7zM565.3 833l3.7 3.7 -3.7 3.7 -3.7 -3.7zM549.3 842.7l3.7 3.7 -3.7 3.7 -3.7 -3.7zM553.15 842.7l3.7 3.7 -3.7 3.7 -3.7 -3.7zM557 842.7l3.7 3.7 -3.7 3.7 -3.7 -3.7zM560.85 842.7l3.7 3.7 -3.7 3.7 -3.7 -3.7zM564.7 842.7l3.7 3.7 -3.7 3.7 -3.7 -3.7z"/>
<path d="M58.75 452V896.8" stroke="#111" stroke-width="2" fill="none"/>
<path d="M54.75 895.8H580.5" stroke="#111" stroke-width="2" fill="none"/>
<path d="M50.55 846.2H58.75M54.35 796.93H58.75M50.55 747.65H58.75M54.35 698.38H58.75M50.55 649.1H58.75M54.35 599.83H58.75M50.55 550.55H58.75M54.35 501.28H58.75M50.55 452H58.75" stroke="#111" stroke-width="1.9" fill="none"/>
<text x="44.95" y="851.85" text-anchor="end" font-size="17.6">0</text>
<text x="44.95" y="753.3" text-anchor="end" font-size="17.6">10</text>
<text x="44.95" y="654.75" text-anchor="end" font-size="17.6">20</text>
<text x="44.95" y="556.2" text-anchor="end" font-size="17.6">30</text>
<text x="44.95" y="457.65" text-anchor="end" font-size="17.6">40</text>
<path d="M91.6 895.8v1.6M156.8 895.8v1.6M222 895.8v1.6M287.2 895.8v1.6M352.4 895.8v1.6M417.6 895.8v1.6M482.8 895.8v1.6M548 895.8v1.6" stroke="#111" stroke-width="1.2" fill="none"/>
<text class="L" transform="translate(87.1 493.9) scale(1.04 1)" font-size="31.5">B</text>
<text transform="translate(17.5 673) rotate(-90) scale(1.0 1)" text-anchor="middle" font-size="23.2">Mitotic index (%)</text>
<rect x="69.05" y="1275" width="19.25" height="13" fill="#659896" stroke="#777777" stroke-width="1.5"/>
<path d="M69.05 1281.5H88.3" stroke="#777777" stroke-width="1.5" fill="none"/>
<path d="M78.5 1261.6H88.3V1294.4H78.5" stroke="#777777" stroke-width="1.5" fill="none"/>
<path fill="#777777" d="M92.3 1258.07l3.7 3.53 -3.7 3.53 -3.7 -3.53zM104 1264.47l3.7 3.53 -3.7 3.53 -3.7 -3.53zM108.1 1264.47l3.7 3.53 -3.7 3.53 -3.7 -3.53zM111.1 1264.47l3.7 3.53 -3.7 3.53 -3.7 -3.53zM95.1 1270.97l3.7 3.53 -3.7 3.53 -3.7 -3.53zM98.6 1270.97l3.7 3.53 -3.7 3.53 -3.7 -3.53zM105.8 1270.97l3.7 3.53 -3.7 3.53 -3.7 -3.53zM109.3 1270.97l3.7 3.53 -3.7 3.53 -3.7 -3.53zM92.1 1277.97l3.7 3.53 -3.7 3.53 -3.7 -3.53zM95.7 1277.97l3.7 3.53 -3.7 3.53 -3.7 -3.53zM99.2 1277.97l3.7 3.53 -3.7 3.53 -3.7 -3.53zM102.8 1277.97l3.7 3.53 -3.7 3.53 -3.7 -3.53zM106.4 1277.97l3.7 3.53 -3.7 3.53 -3.7 -3.53zM93.9 1284.47l3.7 3.53 -3.7 3.53 -3.7 -3.53zM98 1284.47l3.7 3.53 -3.7 3.53 -3.7 -3.53zM101 1284.47l3.7 3.53 -3.7 3.53 -3.7 -3.53zM111.1 1284.47l3.7 3.53 -3.7 3.53 -3.7 -3.53zM95.7 1290.87l3.7 3.53 -3.7 3.53 -3.7 -3.53zM99.8 1290.87l3.7 3.53 -3.7 3.53 -3.7 -3.53zM104 1290.87l3.7 3.53 -3.7 3.53 -3.7 -3.53zM108.7 1290.87l3.7 3.53 -3.7 3.53 -3.7 -3.53z"/>
<rect x="134.65" y="1242.3" width="19.45" height="13.1" fill="#659896" stroke="#ef3b3d" stroke-width="1.5"/>
<path d="M134.65 1248.9H154.1" stroke="#ef3b3d" stroke-width="1.5" fill="none"/>
<path d="M144.3 1229.3H154.1V1261.7H144.3" stroke="#ef3b3d" stroke-width="1.5" fill="none"/>
<path fill="#ef3b3d" d="M158.9 1225.37l3.7 3.53 -3.7 3.53 -3.7 -3.53zM160.7 1231.87l3.7 3.53 -3.7 3.53 -3.7 -3.53zM171.4 1231.87l3.7 3.53 -3.7 3.53 -3.7 -3.53zM175.5 1231.87l3.7 3.53 -3.7 3.53 -3.7 -3.53zM167.2 1238.37l3.7 3.53 -3.7 3.53 -3.7 -3.53zM170.8 1238.37l3.7 3.53 -3.7 3.53 -3.7 -3.53zM174.9 1238.37l3.7 3.53 -3.7 3.53 -3.7 -3.53zM177.3 1238.37l3.7 3.53 -3.7 3.53 -3.7 -3.53zM159.5 1245.17l3.7 3.53 -3.7 3.53 -3.7 -3.53zM163 1245.17l3.7 3.53 -3.7 3.53 -3.7 -3.53zM166.6 1245.17l3.7 3.53 -3.7 3.53 -3.7 -3.53zM170.2 1245.17l3.7 3.53 -3.7 3.53 -3.7 -3.53zM173.7 1245.17l3.7 3.53 -3.7 3.53 -3.7 -3.53zM157.7 1251.67l3.7 3.53 -3.7 3.53 -3.7 -3.53zM161.17 1251.67l3.7 3.53 -3.7 3.53 -3.7 -3.53zM164.63 1251.67l3.7 3.53 -3.7 3.53 -3.7 -3.53zM168.1 1251.67l3.7 3.53 -3.7 3.53 -3.7 -3.53zM171.57 1251.67l3.7 3.53 -3.7 3.53 -3.7 -3.53zM175.03 1251.67l3.7 3.53 -3.7 3.53 -3.7 -3.53zM178.5 1251.67l3.7 3.53 -3.7 3.53 -3.7 -3.53zM158.9 1258.17l3.7 3.53 -3.7 3.53 -3.7 -3.53zM163 1258.17l3.7 3.53 -3.7 3.53 -3.7 -3.53zM166.6 1258.17l3.7 3.53 -3.7 3.53 -3.7 -3.53zM170.2 1258.17l3.7 3.53 -3.7 3.53 -3.7 -3.53zM173.1 1258.17l3.7 3.53 -3.7 3.53 -3.7 -3.53z"/>
<rect x="200.85" y="1111.1" width="19.45" height="26.9" fill="#659896" stroke="#1a6edc" stroke-width="1.5"/>
<path d="M200.85 1125.4H220.3" stroke="#1a6edc" stroke-width="1.5" fill="none"/>
<path d="M210.5 1085.3H220.3V1164.1H210.5" stroke="#1a6edc" stroke-width="1.5" fill="none"/>
<path fill="#1a6edc" d="M227.1 1081.77l3.7 3.53 -3.7 3.53 -3.7 -3.53zM226.2 1085.37l3.7 3.53 -3.7 3.53 -3.7 -3.53zM225.7 1086.57l3.7 3.53 -3.7 3.53 -3.7 -3.53zM223.9 1094.87l3.7 3.53 -3.7 3.53 -3.7 -3.53zM228 1101.47l3.7 3.53 -3.7 3.53 -3.7 -3.53zM234.6 1100.87l3.7 3.53 -3.7 3.53 -3.7 -3.53zM236.4 1103.77l3.7 3.53 -3.7 3.53 -3.7 -3.53zM242.9 1102.07l3.7 3.53 -3.7 3.53 -3.7 -3.53zM225.1 1108.57l3.7 3.53 -3.7 3.53 -3.7 -3.53zM228.6 1108.57l3.7 3.53 -3.7 3.53 -3.7 -3.53zM230.4 1110.97l3.7 3.53 -3.7 3.53 -3.7 -3.53zM223.9 1115.07l3.7 3.53 -3.7 3.53 -3.7 -3.53zM233.4 1114.47l3.7 3.53 -3.7 3.53 -3.7 -3.53zM241.7 1114.47l3.7 3.53 -3.7 3.53 -3.7 -3.53zM231 1121.07l3.7 3.53 -3.7 3.53 -3.7 -3.53zM226.8 1122.87l3.7 3.53 -3.7 3.53 -3.7 -3.53zM240.5 1121.07l3.7 3.53 -3.7 3.53 -3.7 -3.53zM238.1 1127.57l3.7 3.53 -3.7 3.53 -3.7 -3.53zM229.2 1130.57l3.7 3.53 -3.7 3.53 -3.7 -3.53zM232.2 1133.47l3.7 3.53 -3.7 3.53 -3.7 -3.53zM235.2 1134.67l3.7 3.53 -3.7 3.53 -3.7 -3.53zM237.5 1134.07l3.7 3.53 -3.7 3.53 -3.7 -3.53zM228 1140.67l3.7 3.53 -3.7 3.53 -3.7 -3.53zM236.9 1139.47l3.7 3.53 -3.7 3.53 -3.7 -3.53zM238.7 1144.77l3.7 3.53 -3.7 3.53 -3.7 -3.53zM225.7 1153.77l3.7 3.53 -3.7 3.53 -3.7 -3.53zM224.5 1160.27l3.7 3.53 -3.7 3.53 -3.7 -3.53zM228 1160.27l3.7 3.53 -3.7 3.53 -3.7 -3.53z"/>
<rect x="267.05" y="946" width="19.45" height="35.1" fill="#659896" stroke="#37ab69" stroke-width="1.5"/>
<path d="M267.05 968.3H286.5" stroke="#37ab69" stroke-width="1.5" fill="none"/>
<path d="M276.7 922.9H286.5V1008.7H276.7" stroke="#37ab69" stroke-width="1.5" fill="none"/>
<path fill="#37ab69" d="M293.3 919.07l3.7 3.53 -3.7 3.53 -3.7 -3.53zM290.7 925.37l3.7 3.53 -3.7 3.53 -3.7 -3.53zM291.8 928.27l3.7 3.53 -3.7 3.53 -3.7 -3.53zM303.1 933.57l3.7 3.53 -3.7 3.53 -3.7 -3.53zM305.5 938.37l3.7 3.53 -3.7 3.53 -3.7 -3.53zM294.2 940.17l3.7 3.53 -3.7 3.53 -3.7 -3.53zM296.6 940.77l3.7 3.53 -3.7 3.53 -3.7 -3.53zM298.4 943.07l3.7 3.53 -3.7 3.53 -3.7 -3.53zM295.4 945.47l3.7 3.53 -3.7 3.53 -3.7 -3.53zM302 945.47l3.7 3.53 -3.7 3.53 -3.7 -3.53zM290.1 953.77l3.7 3.53 -3.7 3.53 -3.7 -3.53zM300.2 953.77l3.7 3.53 -3.7 3.53 -3.7 -3.53zM306.1 956.17l3.7 3.53 -3.7 3.53 -3.7 -3.53zM293 959.77l3.7 3.53 -3.7 3.53 -3.7 -3.53zM291.8 963.27l3.7 3.53 -3.7 3.53 -3.7 -3.53zM293 966.87l3.7 3.53 -3.7 3.53 -3.7 -3.53zM298.4 966.27l3.7 3.53 -3.7 3.53 -3.7 -3.53zM294.8 969.27l3.7 3.53 -3.7 3.53 -3.7 -3.53zM297.2 972.27l3.7 3.53 -3.7 3.53 -3.7 -3.53zM303.1 972.87l3.7 3.53 -3.7 3.53 -3.7 -3.53zM307.3 977.57l3.7 3.53 -3.7 3.53 -3.7 -3.53zM296 976.97l3.7 3.53 -3.7 3.53 -3.7 -3.53zM290.1 981.77l3.7 3.53 -3.7 3.53 -3.7 -3.53zM302 984.67l3.7 3.53 -3.7 3.53 -3.7 -3.53zM306.1 985.87l3.7 3.53 -3.7 3.53 -3.7 -3.53zM299.6 992.47l3.7 3.53 -3.7 3.53 -3.7 -3.53zM303.7 992.47l3.7 3.53 -3.7 3.53 -3.7 -3.53zM308.5 991.27l3.7 3.53 -3.7 3.53 -3.7 -3.53zM290.4 1004.87l3.7 3.53 -3.7 3.53 -3.7 -3.53z"/>
<rect x="333.25" y="973.2" width="18.65" height="14.3" fill="#659896" stroke="#b274de" stroke-width="1.5"/>
<path d="M333.25 980.9H351.9" stroke="#b274de" stroke-width="1.5" fill="none"/>
<path d="M342.1 960.5H351.9V1003H342.1" stroke="#b274de" stroke-width="1.5" fill="none"/>
<path fill="#b274de" d="M358 940.67l3.7 3.53 -3.7 3.53 -3.7 -3.53zM357.1 956.97l3.7 3.53 -3.7 3.53 -3.7 -3.53zM356.3 1016.97l3.7 3.53 -3.7 3.53 -3.7 -3.53zM355.65 964.64l3.7 3.53 -3.7 3.53 -3.7 -3.53zM359.22 964.05l3.7 3.53 -3.7 3.53 -3.7 -3.53zM362.19 966.42l3.7 3.53 -3.7 3.53 -3.7 -3.53zM359.81 969.4l3.7 3.53 -3.7 3.53 -3.7 -3.53zM364.57 969.99l3.7 3.53 -3.7 3.53 -3.7 -3.53zM366.95 972.37l3.7 3.53 -3.7 3.53 -3.7 -3.53zM374.08 968.8l3.7 3.53 -3.7 3.53 -3.7 -3.53zM376.45 972.37l3.7 3.53 -3.7 3.53 -3.7 -3.53zM369.32 973.56l3.7 3.53 -3.7 3.53 -3.7 -3.53zM356.25 975.93l3.7 3.53 -3.7 3.53 -3.7 -3.53zM360.41 974.74l3.7 3.53 -3.7 3.53 -3.7 -3.53zM363.38 977.12l3.7 3.53 -3.7 3.53 -3.7 -3.53zM366.35 975.93l3.7 3.53 -3.7 3.53 -3.7 -3.53zM371.11 977.12l3.7 3.53 -3.7 3.53 -3.7 -3.53zM374.67 980.69l3.7 3.53 -3.7 3.53 -3.7 -3.53zM375.86 983.66l3.7 3.53 -3.7 3.53 -3.7 -3.53zM356.84 983.66l3.7 3.53 -3.7 3.53 -3.7 -3.53zM361 981.88l3.7 3.53 -3.7 3.53 -3.7 -3.53zM365.16 984.25l3.7 3.53 -3.7 3.53 -3.7 -3.53zM369.32 985.44l3.7 3.53 -3.7 3.53 -3.7 -3.53zM372.29 986.63l3.7 3.53 -3.7 3.53 -3.7 -3.53zM366.95 989.01l3.7 3.53 -3.7 3.53 -3.7 -3.53zM363.38 990.19l3.7 3.53 -3.7 3.53 -3.7 -3.53zM368.73 992.57l3.7 3.53 -3.7 3.53 -3.7 -3.53zM359.22 994.95l3.7 3.53 -3.7 3.53 -3.7 -3.53zM358.03 997.33l3.7 3.53 -3.7 3.53 -3.7 -3.53zM356.84 1000.3l3.7 3.53 -3.7 3.53 -3.7 -3.53z"/>
<rect x="399.05" y="1001.3" width="19.25" height="28.1" fill="#659896" stroke="#cd9700" stroke-width="1.5"/>
<path d="M399.05 1018.7H418.3" stroke="#cd9700" stroke-width="1.5" fill="none"/>
<path d="M408.5 961.9H418.3V1038.5H408.5" stroke="#cd9700" stroke-width="1.5" fill="none"/>
<path fill="#cd9700" d="M423.3 951.77l3.7 3.53 -3.7 3.53 -3.7 -3.53zM422.4 958.37l3.7 3.53 -3.7 3.53 -3.7 -3.53zM423.6 978.57l3.7 3.53 -3.7 3.53 -3.7 -3.53zM427.2 977.37l3.7 3.53 -3.7 3.53 -3.7 -3.53zM429.6 977.97l3.7 3.53 -3.7 3.53 -3.7 -3.53zM424.8 990.47l3.7 3.53 -3.7 3.53 -3.7 -3.53zM421.8 997.57l3.7 3.53 -3.7 3.53 -3.7 -3.53zM425.4 996.97l3.7 3.53 -3.7 3.53 -3.7 -3.53zM428.4 996.97l3.7 3.53 -3.7 3.53 -3.7 -3.53zM431.4 997.57l3.7 3.53 -3.7 3.53 -3.7 -3.53zM432.5 1002.37l3.7 3.53 -3.7 3.53 -3.7 -3.53zM435.5 1005.27l3.7 3.53 -3.7 3.53 -3.7 -3.53zM424.2 1009.47l3.7 3.53 -3.7 3.53 -3.7 -3.53zM426 1013.07l3.7 3.53 -3.7 3.53 -3.7 -3.53zM428.4 1014.17l3.7 3.53 -3.7 3.53 -3.7 -3.53zM431.4 1016.57l3.7 3.53 -3.7 3.53 -3.7 -3.53zM440.3 1014.77l3.7 3.53 -3.7 3.53 -3.7 -3.53zM423 1021.97l3.7 3.53 -3.7 3.53 -3.7 -3.53zM426.6 1022.57l3.7 3.53 -3.7 3.53 -3.7 -3.53zM430.2 1023.77l3.7 3.53 -3.7 3.53 -3.7 -3.53zM433.7 1023.17l3.7 3.53 -3.7 3.53 -3.7 -3.53zM437.3 1023.77l3.7 3.53 -3.7 3.53 -3.7 -3.53zM440.9 1025.47l3.7 3.53 -3.7 3.53 -3.7 -3.53zM437.9 1028.47l3.7 3.53 -3.7 3.53 -3.7 -3.53zM433.7 1029.67l3.7 3.53 -3.7 3.53 -3.7 -3.53zM429.6 1026.67l3.7 3.53 -3.7 3.53 -3.7 -3.53zM426.6 1030.27l3.7 3.53 -3.7 3.53 -3.7 -3.53zM421.8 1029.67l3.7 3.53 -3.7 3.53 -3.7 -3.53zM423 1034.47l3.7 3.53 -3.7 3.53 -3.7 -3.53z"/>
<rect x="464.75" y="1183.5" width="19.75" height="19.6" fill="#659896" stroke="#02cbcc" stroke-width="1.5"/>
<path d="M464.75 1195.4H484.5" stroke="#02cbcc" stroke-width="1.5" fill="none"/>
<path d="M474.7 1163.9H484.5V1229.3H474.7" stroke="#02cbcc" stroke-width="1.5" fill="none"/>
<path fill="#02cbcc" d="M488.3 1160.37l3.7 3.53 -3.7 3.53 -3.7 -3.53zM488 1172.87l3.7 3.53 -3.7 3.53 -3.7 -3.53zM493.9 1172.87l3.7 3.53 -3.7 3.53 -3.7 -3.53zM499.9 1172.87l3.7 3.53 -3.7 3.53 -3.7 -3.53zM505.9 1172.87l3.7 3.53 -3.7 3.53 -3.7 -3.53zM504.7 1176.47l3.7 3.53 -3.7 3.53 -3.7 -3.53zM489.8 1179.97l3.7 3.53 -3.7 3.53 -3.7 -3.53zM489.8 1182.97l3.7 3.53 -3.7 3.53 -3.7 -3.53zM497.5 1179.97l3.7 3.53 -3.7 3.53 -3.7 -3.53zM502.3 1182.97l3.7 3.53 -3.7 3.53 -3.7 -3.53zM508.2 1183.57l3.7 3.53 -3.7 3.53 -3.7 -3.53zM505.9 1185.37l3.7 3.53 -3.7 3.53 -3.7 -3.53zM499.9 1185.97l3.7 3.53 -3.7 3.53 -3.7 -3.53zM495.2 1187.17l3.7 3.53 -3.7 3.53 -3.7 -3.53zM492.8 1190.67l3.7 3.53 -3.7 3.53 -3.7 -3.53zM497.5 1189.47l3.7 3.53 -3.7 3.53 -3.7 -3.53zM501.1 1191.87l3.7 3.53 -3.7 3.53 -3.7 -3.53zM503.5 1193.07l3.7 3.53 -3.7 3.53 -3.7 -3.53zM490.4 1193.07l3.7 3.53 -3.7 3.53 -3.7 -3.53zM494 1194.27l3.7 3.53 -3.7 3.53 -3.7 -3.53zM486.8 1198.87l3.7 3.53 -3.7 3.53 -3.7 -3.53zM490.4 1198.87l3.7 3.53 -3.7 3.53 -3.7 -3.53zM494 1198.87l3.7 3.53 -3.7 3.53 -3.7 -3.53zM497.5 1198.87l3.7 3.53 -3.7 3.53 -3.7 -3.53zM500.5 1198.87l3.7 3.53 -3.7 3.53 -3.7 -3.53zM488.6 1205.57l3.7 3.53 -3.7 3.53 -3.7 -3.53zM491 1207.97l3.7 3.53 -3.7 3.53 -3.7 -3.53zM493.4 1210.27l3.7 3.53 -3.7 3.53 -3.7 -3.53zM500.5 1212.67l3.7 3.53 -3.7 3.53 -3.7 -3.53zM497.5 1216.87l3.7 3.53 -3.7 3.53 -3.7 -3.53zM502.3 1216.87l3.7 3.53 -3.7 3.53 -3.7 -3.53zM490.4 1225.77l3.7 3.53 -3.7 3.53 -3.7 -3.53zM496.4 1225.77l3.7 3.53 -3.7 3.53 -3.7 -3.53z"/>
<rect x="531.15" y="1203.4" width="19.25" height="25.6" fill="#659896" stroke="#7e4d4d" stroke-width="1.5"/>
<path d="M531.15 1216.5H550.4" stroke="#7e4d4d" stroke-width="1.5" fill="none"/>
<path d="M540.6 1190H550.4V1261.7H540.6" stroke="#7e4d4d" stroke-width="1.5" fill="none"/>
<path fill="#7e4d4d" d="M555.2 1186.27l3.7 3.53 -3.7 3.53 -3.7 -3.53zM555.8 1189.77l3.7 3.53 -3.7 3.53 -3.7 -3.53zM557.5 1192.77l3.7 3.53 -3.7 3.53 -3.7 -3.53zM557.5 1199.87l3.7 3.53 -3.7 3.53 -3.7 -3.53zM561.1 1199.87l3.7 3.53 -3.7 3.53 -3.7 -3.53zM565.3 1199.87l3.7 3.53 -3.7 3.53 -3.7 -3.53zM569.4 1199.87l3.7 3.53 -3.7 3.53 -3.7 -3.53zM573.6 1199.87l3.7 3.53 -3.7 3.53 -3.7 -3.53zM556.4 1203.47l3.7 3.53 -3.7 3.53 -3.7 -3.53zM560.5 1203.47l3.7 3.53 -3.7 3.53 -3.7 -3.53zM564.7 1203.47l3.7 3.53 -3.7 3.53 -3.7 -3.53zM569.4 1203.47l3.7 3.53 -3.7 3.53 -3.7 -3.53zM573 1203.47l3.7 3.53 -3.7 3.53 -3.7 -3.53zM562.3 1206.47l3.7 3.53 -3.7 3.53 -3.7 -3.53zM571.8 1205.27l3.7 3.53 -3.7 3.53 -3.7 -3.53zM555.2 1212.97l3.7 3.53 -3.7 3.53 -3.7 -3.53zM558.76 1212.97l3.7 3.53 -3.7 3.53 -3.7 -3.53zM562.32 1212.97l3.7 3.53 -3.7 3.53 -3.7 -3.53zM565.88 1212.97l3.7 3.53 -3.7 3.53 -3.7 -3.53zM569.44 1212.97l3.7 3.53 -3.7 3.53 -3.7 -3.53zM573 1212.97l3.7 3.53 -3.7 3.53 -3.7 -3.53zM555.2 1219.47l3.7 3.53 -3.7 3.53 -3.7 -3.53zM568.2 1219.47l3.7 3.53 -3.7 3.53 -3.7 -3.53zM554.6 1226.07l3.7 3.53 -3.7 3.53 -3.7 -3.53zM558.1 1226.07l3.7 3.53 -3.7 3.53 -3.7 -3.53zM565.3 1226.07l3.7 3.53 -3.7 3.53 -3.7 -3.53zM555.8 1238.47l3.7 3.53 -3.7 3.53 -3.7 -3.53zM557.5 1245.67l3.7 3.53 -3.7 3.53 -3.7 -3.53zM555.8 1251.57l3.7 3.53 -3.7 3.53 -3.7 -3.53zM558.7 1258.17l3.7 3.53 -3.7 3.53 -3.7 -3.53z"/>
<path d="M58.6 903.1V1327.9" stroke="#111" stroke-width="2" fill="none"/>
<path d="M54.6 1326.9H587" stroke="#7a7a7a" stroke-width="2.3" fill="none"/>
<path d="M50.4 1294.3H58.6M54.2 1261.7H58.6M50.4 1229.1H58.6M54.2 1196.5H58.6M50.4 1163.9H58.6M54.2 1131.3H58.6M50.4 1098.7H58.6M54.2 1066.1H58.6M50.4 1033.5H58.6M54.2 1000.9H58.6M50.4 968.3H58.6M54.2 935.7H58.6M50.4 903.1H58.6" stroke="#111" stroke-width="1.9" fill="none"/>
<text transform="translate(44.8 1299.67) scale(1 0.95)" text-anchor="end" font-size="17.6">0</text>
<text transform="translate(44.8 1234.47) scale(1 0.95)" text-anchor="end" font-size="17.6">10</text>
<text transform="translate(44.8 1169.27) scale(1 0.95)" text-anchor="end" font-size="17.6">20</text>
<text transform="translate(44.8 1104.07) scale(1 0.95)" text-anchor="end" font-size="17.6">30</text>
<text transform="translate(44.8 1038.87) scale(1 0.95)" text-anchor="end" font-size="17.6">40</text>
<text transform="translate(44.8 973.67) scale(1 0.95)" text-anchor="end" font-size="17.6">50</text>
<text transform="translate(44.8 908.47) scale(1 0.95)" text-anchor="end" font-size="17.6">60</text>
<path d="M92 1326.9v1.6M158 1326.9v1.6M224 1326.9v1.6M290 1326.9v1.6M356 1326.9v1.6M422 1326.9v1.6M488 1326.9v1.6M554 1326.9v1.6" stroke="#111" stroke-width="1.2" fill="none"/>
<text class="L" transform="translate(87.1 943) scale(1.04 1)" font-size="31.5">C</text>
<text transform="translate(16.7 1115) rotate(-90) scale(0.95 1)" text-anchor="middle" font-size="23.2">Mitotic index (%)</text>
<rect x="69.65" y="1730.9" width="19.45" height="13.6" fill="#659896" stroke="#777777" stroke-width="1.5"/>
<path d="M79.3 1710.1H89.1V1744.5H79.3" stroke="#777777" stroke-width="1.5" fill="none"/>
<path fill="#777777" d="M92.7 1706.4l3.7 3.7 -3.7 3.7 -3.7 -3.7zM98.6 1712.9l3.7 3.7 -3.7 3.7 -3.7 -3.7zM95.7 1720.1l3.7 3.7 -3.7 3.7 -3.7 -3.7zM100.4 1720.1l3.7 3.7 -3.7 3.7 -3.7 -3.7zM111.7 1720.1l3.7 3.7 -3.7 3.7 -3.7 -3.7zM94.5 1726.6l3.7 3.7 -3.7 3.7 -3.7 -3.7zM99.2 1726.6l3.7 3.7 -3.7 3.7 -3.7 -3.7zM104 1726.6l3.7 3.7 -3.7 3.7 -3.7 -3.7zM108.7 1726.6l3.7 3.7 -3.7 3.7 -3.7 -3.7zM112.3 1726.6l3.7 3.7 -3.7 3.7 -3.7 -3.7zM94.5 1733.7l3.7 3.7 -3.7 3.7 -3.7 -3.7zM105.8 1733.7l3.7 3.7 -3.7 3.7 -3.7 -3.7zM93.3 1740.8l3.7 3.7 -3.7 3.7 -3.7 -3.7zM98 1740.8l3.7 3.7 -3.7 3.7 -3.7 -3.7zM102.8 1740.8l3.7 3.7 -3.7 3.7 -3.7 -3.7zM108.7 1740.8l3.7 3.7 -3.7 3.7 -3.7 -3.7z"/>
<rect x="135.05" y="1717" width="19.05" height="13.9" fill="#659896" stroke="#ef3b3d" stroke-width="1.5"/>
<path d="M135.05 1723.8H154.1" stroke="#ef3b3d" stroke-width="1.5" fill="none"/>
<path d="M144.3 1710.1H154.1V1730.9H144.3" stroke="#ef3b3d" stroke-width="1.5" fill="none"/>
<path fill="#ef3b3d" d="M158.5 1706.4l3.7 3.7 -3.7 3.7 -3.7 -3.7zM160.4 1713.3l3.7 3.7 -3.7 3.7 -3.7 -3.7zM163.72 1713.3l3.7 3.7 -3.7 3.7 -3.7 -3.7zM167.04 1713.3l3.7 3.7 -3.7 3.7 -3.7 -3.7zM170.36 1713.3l3.7 3.7 -3.7 3.7 -3.7 -3.7zM173.68 1713.3l3.7 3.7 -3.7 3.7 -3.7 -3.7zM177 1713.3l3.7 3.7 -3.7 3.7 -3.7 -3.7zM159.8 1720.1l3.7 3.7 -3.7 3.7 -3.7 -3.7zM162.94 1720.1l3.7 3.7 -3.7 3.7 -3.7 -3.7zM166.08 1720.1l3.7 3.7 -3.7 3.7 -3.7 -3.7zM169.22 1720.1l3.7 3.7 -3.7 3.7 -3.7 -3.7zM172.36 1720.1l3.7 3.7 -3.7 3.7 -3.7 -3.7zM175.5 1720.1l3.7 3.7 -3.7 3.7 -3.7 -3.7zM160.4 1727l3.7 3.7 -3.7 3.7 -3.7 -3.7zM163.72 1727l3.7 3.7 -3.7 3.7 -3.7 -3.7zM167.04 1727l3.7 3.7 -3.7 3.7 -3.7 -3.7zM170.36 1727l3.7 3.7 -3.7 3.7 -3.7 -3.7zM173.68 1727l3.7 3.7 -3.7 3.7 -3.7 -3.7zM177 1727l3.7 3.7 -3.7 3.7 -3.7 -3.7z"/>
<rect x="200.25" y="1402.6" width="18.85" height="19" fill="#659896" stroke="#1a6edc" stroke-width="1.5"/>
<path d="M200.25 1413.9H219.1" stroke="#1a6edc" stroke-width="1.5" fill="none"/>
<path d="M209.3 1388.3H219.1V1436.8H209.3" stroke="#1a6edc" stroke-width="1.5" fill="none"/>
<path fill="#1a6edc" d="M225.7 1384.6l3.7 3.7 -3.7 3.7 -3.7 -3.7zM229.2 1384l3.7 3.7 -3.7 3.7 -3.7 -3.7zM225.7 1391.8l3.7 3.7 -3.7 3.7 -3.7 -3.7zM229.2 1391.8l3.7 3.7 -3.7 3.7 -3.7 -3.7zM224.5 1397.7l3.7 3.7 -3.7 3.7 -3.7 -3.7zM228 1397.1l3.7 3.7 -3.7 3.7 -3.7 -3.7zM231 1399.5l3.7 3.7 -3.7 3.7 -3.7 -3.7zM223.3 1403.6l3.7 3.7 -3.7 3.7 -3.7 -3.7zM226.8 1402.4l3.7 3.7 -3.7 3.7 -3.7 -3.7zM229.2 1406l3.7 3.7 -3.7 3.7 -3.7 -3.7zM238.7 1404.8l3.7 3.7 -3.7 3.7 -3.7 -3.7zM242.3 1408.4l3.7 3.7 -3.7 3.7 -3.7 -3.7zM235.2 1408.4l3.7 3.7 -3.7 3.7 -3.7 -3.7zM237.5 1410.8l3.7 3.7 -3.7 3.7 -3.7 -3.7zM241.1 1412l3.7 3.7 -3.7 3.7 -3.7 -3.7zM242.9 1410.8l3.7 3.7 -3.7 3.7 -3.7 -3.7zM225.7 1414.3l3.7 3.7 -3.7 3.7 -3.7 -3.7zM229.2 1413.1l3.7 3.7 -3.7 3.7 -3.7 -3.7zM224.5 1417.9l3.7 3.7 -3.7 3.7 -3.7 -3.7zM228 1417.3l3.7 3.7 -3.7 3.7 -3.7 -3.7zM233.4 1417.3l3.7 3.7 -3.7 3.7 -3.7 -3.7zM237.5 1417.3l3.7 3.7 -3.7 3.7 -3.7 -3.7zM241.1 1419.1l3.7 3.7 -3.7 3.7 -3.7 -3.7zM235.8 1421.5l3.7 3.7 -3.7 3.7 -3.7 -3.7zM231.6 1423.8l3.7 3.7 -3.7 3.7 -3.7 -3.7zM234.6 1426.8l3.7 3.7 -3.7 3.7 -3.7 -3.7zM238.7 1424.4l3.7 3.7 -3.7 3.7 -3.7 -3.7zM228.6 1433.3l3.7 3.7 -3.7 3.7 -3.7 -3.7z"/>
<rect x="265.25" y="1412.1" width="18.85" height="24.5" fill="#659896" stroke="#37ab69" stroke-width="1.5"/>
<path d="M265.25 1422.3H284.1" stroke="#37ab69" stroke-width="1.5" fill="none"/>
<path d="M274.3 1377.6H284.1V1470.7H274.3" stroke="#37ab69" stroke-width="1.5" fill="none"/>
<path fill="#37ab69" d="M288.9 1373.9l3.7 3.7 -3.7 3.7 -3.7 -3.7zM290.7 1390.3l3.7 3.7 -3.7 3.7 -3.7 -3.7zM289.5 1398.6l3.7 3.7 -3.7 3.7 -3.7 -3.7zM290.7 1408.1l3.7 3.7 -3.7 3.7 -3.7 -3.7zM294.2 1407l3.7 3.7 -3.7 3.7 -3.7 -3.7zM297.8 1403.4l3.7 3.7 -3.7 3.7 -3.7 -3.7zM301.4 1402.2l3.7 3.7 -3.7 3.7 -3.7 -3.7zM304.9 1403.4l3.7 3.7 -3.7 3.7 -3.7 -3.7zM307.9 1405.8l3.7 3.7 -3.7 3.7 -3.7 -3.7zM303.1 1409.3l3.7 3.7 -3.7 3.7 -3.7 -3.7zM301.4 1412.9l3.7 3.7 -3.7 3.7 -3.7 -3.7zM303.7 1415.3l3.7 3.7 -3.7 3.7 -3.7 -3.7zM307.3 1418.2l3.7 3.7 -3.7 3.7 -3.7 -3.7zM290.7 1417.1l3.7 3.7 -3.7 3.7 -3.7 -3.7zM294.2 1418.8l3.7 3.7 -3.7 3.7 -3.7 -3.7zM297.2 1421.2l3.7 3.7 -3.7 3.7 -3.7 -3.7zM288.3 1425.4l3.7 3.7 -3.7 3.7 -3.7 -3.7zM289.5 1429.5l3.7 3.7 -3.7 3.7 -3.7 -3.7zM293.6 1431.9l3.7 3.7 -3.7 3.7 -3.7 -3.7zM297.2 1430.7l3.7 3.7 -3.7 3.7 -3.7 -3.7zM300.2 1433.1l3.7 3.7 -3.7 3.7 -3.7 -3.7zM288.3 1439.6l3.7 3.7 -3.7 3.7 -3.7 -3.7zM290.7 1445.6l3.7 3.7 -3.7 3.7 -3.7 -3.7zM294.2 1448l3.7 3.7 -3.7 3.7 -3.7 -3.7zM290.1 1450.9l3.7 3.7 -3.7 3.7 -3.7 -3.7zM292.4 1459.8l3.7 3.7 -3.7 3.7 -3.7 -3.7zM294.2 1467l3.7 3.7 -3.7 3.7 -3.7 -3.7z"/>
<rect x="330.85" y="1395.7" width="18.65" height="26.8" fill="#659896" stroke="#b274de" stroke-width="1.5"/>
<path d="M330.85 1410.9H349.5" stroke="#b274de" stroke-width="1.5" fill="none"/>
<path d="M339.7 1381.8H349.5V1457.3H339.7" stroke="#b274de" stroke-width="1.5" fill="none"/>
<path fill="#b274de" d="M355.7 1378.1l3.7 3.7 -3.7 3.7 -3.7 -3.7zM353.3 1383.4l3.7 3.7 -3.7 3.7 -3.7 -3.7zM361.6 1382.8l3.7 3.7 -3.7 3.7 -3.7 -3.7zM364.6 1382.2l3.7 3.7 -3.7 3.7 -3.7 -3.7zM365.8 1384l3.7 3.7 -3.7 3.7 -3.7 -3.7zM358 1390l3.7 3.7 -3.7 3.7 -3.7 -3.7zM362.8 1390.6l3.7 3.7 -3.7 3.7 -3.7 -3.7zM368.1 1391.8l3.7 3.7 -3.7 3.7 -3.7 -3.7zM364.6 1392.9l3.7 3.7 -3.7 3.7 -3.7 -3.7zM353.3 1398.3l3.7 3.7 -3.7 3.7 -3.7 -3.7zM356.8 1400.1l3.7 3.7 -3.7 3.7 -3.7 -3.7zM360.4 1398.3l3.7 3.7 -3.7 3.7 -3.7 -3.7zM364.6 1398.9l3.7 3.7 -3.7 3.7 -3.7 -3.7zM368.1 1398.9l3.7 3.7 -3.7 3.7 -3.7 -3.7zM365.2 1403.6l3.7 3.7 -3.7 3.7 -3.7 -3.7zM371.1 1405.4l3.7 3.7 -3.7 3.7 -3.7 -3.7zM367.5 1408.4l3.7 3.7 -3.7 3.7 -3.7 -3.7zM356.8 1411.4l3.7 3.7 -3.7 3.7 -3.7 -3.7zM355.7 1415.5l3.7 3.7 -3.7 3.7 -3.7 -3.7zM365.2 1413.1l3.7 3.7 -3.7 3.7 -3.7 -3.7zM367.5 1415.5l3.7 3.7 -3.7 3.7 -3.7 -3.7zM369.9 1417.9l3.7 3.7 -3.7 3.7 -3.7 -3.7zM372.9 1419.1l3.7 3.7 -3.7 3.7 -3.7 -3.7zM360.4 1417.9l3.7 3.7 -3.7 3.7 -3.7 -3.7zM355.7 1422.1l3.7 3.7 -3.7 3.7 -3.7 -3.7zM359.2 1420.3l3.7 3.7 -3.7 3.7 -3.7 -3.7zM353.9 1424.4l3.7 3.7 -3.7 3.7 -3.7 -3.7zM362.2 1427.4l3.7 3.7 -3.7 3.7 -3.7 -3.7zM369.9 1423.8l3.7 3.7 -3.7 3.7 -3.7 -3.7zM353.9 1433.3l3.7 3.7 -3.7 3.7 -3.7 -3.7zM353.9 1453.6l3.7 3.7 -3.7 3.7 -3.7 -3.7z"/>
<rect x="395.85" y="1387" width="18.85" height="22.9" fill="#659896" stroke="#cd9700" stroke-width="1.5"/>
<path d="M395.85 1395.7H414.7" stroke="#cd9700" stroke-width="1.5" fill="none"/>
<path d="M404.9 1370.7H414.7V1429.8H404.9" stroke="#cd9700" stroke-width="1.5" fill="none"/>
<path fill="#cd9700" d="M426 1367.2l3.7 3.7 -3.7 3.7 -3.7 -3.7zM421.8 1375l3.7 3.7 -3.7 3.7 -3.7 -3.7zM424.2 1377.3l3.7 3.7 -3.7 3.7 -3.7 -3.7zM434.9 1375l3.7 3.7 -3.7 3.7 -3.7 -3.7zM437.9 1373.2l3.7 3.7 -3.7 3.7 -3.7 -3.7zM420.7 1382.7l3.7 3.7 -3.7 3.7 -3.7 -3.7zM430.2 1382.1l3.7 3.7 -3.7 3.7 -3.7 -3.7zM432.5 1383.9l3.7 3.7 -3.7 3.7 -3.7 -3.7zM436.1 1385.1l3.7 3.7 -3.7 3.7 -3.7 -3.7zM419.5 1386.9l3.7 3.7 -3.7 3.7 -3.7 -3.7zM423 1389.8l3.7 3.7 -3.7 3.7 -3.7 -3.7zM426.6 1391l3.7 3.7 -3.7 3.7 -3.7 -3.7zM430.2 1391.6l3.7 3.7 -3.7 3.7 -3.7 -3.7zM420.7 1391l3.7 3.7 -3.7 3.7 -3.7 -3.7zM419.5 1398.1l3.7 3.7 -3.7 3.7 -3.7 -3.7zM424.2 1397l3.7 3.7 -3.7 3.7 -3.7 -3.7zM427.8 1399.3l3.7 3.7 -3.7 3.7 -3.7 -3.7zM418.3 1402.9l3.7 3.7 -3.7 3.7 -3.7 -3.7zM425.4 1402.9l3.7 3.7 -3.7 3.7 -3.7 -3.7zM429 1406.5l3.7 3.7 -3.7 3.7 -3.7 -3.7zM420.7 1407.7l3.7 3.7 -3.7 3.7 -3.7 -3.7zM423 1412.4l3.7 3.7 -3.7 3.7 -3.7 -3.7zM427.8 1412.4l3.7 3.7 -3.7 3.7 -3.7 -3.7zM421.8 1416l3.7 3.7 -3.7 3.7 -3.7 -3.7zM425.4 1417.2l3.7 3.7 -3.7 3.7 -3.7 -3.7zM426.6 1419.5l3.7 3.7 -3.7 3.7 -3.7 -3.7zM423.6 1426.1l3.7 3.7 -3.7 3.7 -3.7 -3.7zM418.9 1451.6l3.7 3.7 -3.7 3.7 -3.7 -3.7z"/>
<rect x="460.85" y="1453.8" width="18.85" height="24" fill="#659896" stroke="#02cbcc" stroke-width="1.5"/>
<path d="M460.85 1467.8H479.7" stroke="#02cbcc" stroke-width="1.5" fill="none"/>
<path d="M469.9 1436.9H479.7V1492.8H469.9" stroke="#02cbcc" stroke-width="1.5" fill="none"/>
<path fill="#02cbcc" d="M483.9 1432.8l3.7 3.7 -3.7 3.7 -3.7 -3.7zM489.2 1438.2l3.7 3.7 -3.7 3.7 -3.7 -3.7zM488 1446.5l3.7 3.7 -3.7 3.7 -3.7 -3.7zM491.6 1445.9l3.7 3.7 -3.7 3.7 -3.7 -3.7zM495.2 1447.1l3.7 3.7 -3.7 3.7 -3.7 -3.7zM498.7 1444.1l3.7 3.7 -3.7 3.7 -3.7 -3.7zM489.2 1450.1l3.7 3.7 -3.7 3.7 -3.7 -3.7zM485.7 1451.3l3.7 3.7 -3.7 3.7 -3.7 -3.7zM494 1451.3l3.7 3.7 -3.7 3.7 -3.7 -3.7zM499.9 1453l3.7 3.7 -3.7 3.7 -3.7 -3.7zM497.5 1454.2l3.7 3.7 -3.7 3.7 -3.7 -3.7zM485.1 1458.4l3.7 3.7 -3.7 3.7 -3.7 -3.7zM490.4 1459.6l3.7 3.7 -3.7 3.7 -3.7 -3.7zM502.9 1460.2l3.7 3.7 -3.7 3.7 -3.7 -3.7zM484.5 1466.7l3.7 3.7 -3.7 3.7 -3.7 -3.7zM492.8 1466.7l3.7 3.7 -3.7 3.7 -3.7 -3.7zM499.9 1467.3l3.7 3.7 -3.7 3.7 -3.7 -3.7zM502.3 1467.9l3.7 3.7 -3.7 3.7 -3.7 -3.7zM485.7 1471.5l3.7 3.7 -3.7 3.7 -3.7 -3.7zM489.2 1472.7l3.7 3.7 -3.7 3.7 -3.7 -3.7zM495.2 1473.3l3.7 3.7 -3.7 3.7 -3.7 -3.7zM486.8 1476.2l3.7 3.7 -3.7 3.7 -3.7 -3.7zM490.4 1477.4l3.7 3.7 -3.7 3.7 -3.7 -3.7zM485.7 1481.6l3.7 3.7 -3.7 3.7 -3.7 -3.7zM489.8 1482.2l3.7 3.7 -3.7 3.7 -3.7 -3.7zM494 1483.3l3.7 3.7 -3.7 3.7 -3.7 -3.7zM483.9 1489.3l3.7 3.7 -3.7 3.7 -3.7 -3.7z"/>
<rect x="525.95" y="1492.9" width="19.15" height="17.5" fill="#659896" stroke="#7e4d4d" stroke-width="1.5"/>
<path d="M525.95 1504H545.1" stroke="#7e4d4d" stroke-width="1.5" fill="none"/>
<path d="M535.3 1476.3H545.1V1525.6H535.3" stroke="#7e4d4d" stroke-width="1.5" fill="none"/>
<path fill="#7e4d4d" d="M549.2 1461.9l3.7 3.7 -3.7 3.7 -3.7 -3.7zM561.1 1472.6l3.7 3.7 -3.7 3.7 -3.7 -3.7zM556.4 1480.9l3.7 3.7 -3.7 3.7 -3.7 -3.7zM562.3 1480.3l3.7 3.7 -3.7 3.7 -3.7 -3.7zM565.9 1483.9l3.7 3.7 -3.7 3.7 -3.7 -3.7zM568.2 1486.9l3.7 3.7 -3.7 3.7 -3.7 -3.7zM551 1488l3.7 3.7 -3.7 3.7 -3.7 -3.7zM557.5 1489.2l3.7 3.7 -3.7 3.7 -3.7 -3.7zM561.1 1488l3.7 3.7 -3.7 3.7 -3.7 -3.7zM564.7 1494l3.7 3.7 -3.7 3.7 -3.7 -3.7zM567 1494.6l3.7 3.7 -3.7 3.7 -3.7 -3.7zM552.8 1494.6l3.7 3.7 -3.7 3.7 -3.7 -3.7zM549.8 1500.5l3.7 3.7 -3.7 3.7 -3.7 -3.7zM554 1500.5l3.7 3.7 -3.7 3.7 -3.7 -3.7zM557.5 1501.7l3.7 3.7 -3.7 3.7 -3.7 -3.7zM565.3 1501.7l3.7 3.7 -3.7 3.7 -3.7 -3.7zM552.8 1506.5l3.7 3.7 -3.7 3.7 -3.7 -3.7zM556.4 1505.3l3.7 3.7 -3.7 3.7 -3.7 -3.7zM555.2 1513l3.7 3.7 -3.7 3.7 -3.7 -3.7zM559.3 1511.8l3.7 3.7 -3.7 3.7 -3.7 -3.7zM551 1518.9l3.7 3.7 -3.7 3.7 -3.7 -3.7zM558.7 1521.3l3.7 3.7 -3.7 3.7 -3.7 -3.7zM550.4 1535.6l3.7 3.7 -3.7 3.7 -3.7 -3.7zM551.6 1535.6l3.7 3.7 -3.7 3.7 -3.7 -3.7z"/>
<path d="M59.8 1334V1779.4" stroke="#111" stroke-width="2" fill="none"/>
<path d="M55.8 1778.4H581.4" stroke="#111" stroke-width="2" fill="none"/>
<path d="M51.6 1744.6H59.8M55.4 1710.38H59.8M51.6 1676.17H59.8M55.4 1641.95H59.8M51.6 1607.73H59.8M55.4 1573.52H59.8M51.6 1539.3H59.8M55.4 1505.08H59.8M51.6 1470.87H59.8M55.4 1436.65H59.8M51.6 1402.43H59.8M55.4 1368.22H59.8M51.6 1334H59.8" stroke="#111" stroke-width="1.9" fill="none"/>
<text x="46" y="1750.25" text-anchor="end" font-size="17.6">0</text>
<text x="46" y="1681.82" text-anchor="end" font-size="17.6">10</text>
<text x="46" y="1613.38" text-anchor="end" font-size="17.6">20</text>
<text x="46" y="1544.95" text-anchor="end" font-size="17.6">30</text>
<text x="46" y="1476.52" text-anchor="end" font-size="17.6">40</text>
<text x="46" y="1408.08" text-anchor="end" font-size="17.6">50</text>
<text x="46" y="1339.65" text-anchor="end" font-size="17.6">60</text>
<path d="M92 1778.4v1.6M157.25 1778.4v1.6M222.5 1778.4v1.6M287.75 1778.4v1.6M353 1778.4v1.6M418.25 1778.4v1.6M483.5 1778.4v1.6M548.75 1778.4v1.6" stroke="#111" stroke-width="1.2" fill="none"/>
<text class="L" transform="translate(89.6 1368.9) scale(1.04 1)" font-size="31.5">D</text>
<text transform="translate(18.5 1555.9) rotate(-90) scale(1.0 1)" text-anchor="middle" font-size="23.2">Mitotic index (%)</text>
<rect x="70.05" y="2187.1" width="19.05" height="12.8" fill="#659896" stroke="#777777" stroke-width="1.5"/>
<path d="M70.05 2190.1H89.1" stroke="#777777" stroke-width="1.5" fill="none"/>
<path d="M79.3 2167.5H89.1V2199.9H79.3" stroke="#777777" stroke-width="1.5" fill="none"/>
<path fill="#777777" d="M93.3 2163.8l3.7 3.7 -3.7 3.7 -3.7 -3.7zM106.4 2169.7l3.7 3.7 -3.7 3.7 -3.7 -3.7zM95.1 2176.3l3.7 3.7 -3.7 3.7 -3.7 -3.7zM105.2 2175.7l3.7 3.7 -3.7 3.7 -3.7 -3.7zM111.1 2176.3l3.7 3.7 -3.7 3.7 -3.7 -3.7zM93.9 2182.8l3.7 3.7 -3.7 3.7 -3.7 -3.7zM99.2 2182.8l3.7 3.7 -3.7 3.7 -3.7 -3.7zM104 2185.2l3.7 3.7 -3.7 3.7 -3.7 -3.7zM108.7 2182.8l3.7 3.7 -3.7 3.7 -3.7 -3.7zM112.3 2182.8l3.7 3.7 -3.7 3.7 -3.7 -3.7zM95.7 2189.3l3.7 3.7 -3.7 3.7 -3.7 -3.7zM100.4 2190.5l3.7 3.7 -3.7 3.7 -3.7 -3.7zM105.2 2189.3l3.7 3.7 -3.7 3.7 -3.7 -3.7zM109.9 2190.5l3.7 3.7 -3.7 3.7 -3.7 -3.7zM93.3 2195.9l3.7 3.7 -3.7 3.7 -3.7 -3.7zM98 2196.5l3.7 3.7 -3.7 3.7 -3.7 -3.7zM102.2 2196.5l3.7 3.7 -3.7 3.7 -3.7 -3.7zM109.9 2195.9l3.7 3.7 -3.7 3.7 -3.7 -3.7z"/>
<rect x="135.05" y="2168.1" width="19.05" height="13" fill="#659896" stroke="#ef3b3d" stroke-width="1.5"/>
<path d="M135.05 2174.7H154.1" stroke="#ef3b3d" stroke-width="1.5" fill="none"/>
<path d="M144.3 2161.6H154.1V2187.1H144.3" stroke="#ef3b3d" stroke-width="1.5" fill="none"/>
<path fill="#ef3b3d" d="M160.1 2157.9l3.7 3.7 -3.7 3.7 -3.7 -3.7zM159.8 2164.4l3.7 3.7 -3.7 3.7 -3.7 -3.7zM163.4 2164.4l3.7 3.7 -3.7 3.7 -3.7 -3.7zM167 2164.4l3.7 3.7 -3.7 3.7 -3.7 -3.7zM159.5 2170.8l3.7 3.7 -3.7 3.7 -3.7 -3.7zM162.9 2170.8l3.7 3.7 -3.7 3.7 -3.7 -3.7zM166.3 2170.8l3.7 3.7 -3.7 3.7 -3.7 -3.7zM169.7 2170.8l3.7 3.7 -3.7 3.7 -3.7 -3.7zM173.1 2170.8l3.7 3.7 -3.7 3.7 -3.7 -3.7zM176.5 2170.8l3.7 3.7 -3.7 3.7 -3.7 -3.7zM159.5 2177.2l3.7 3.7 -3.7 3.7 -3.7 -3.7zM162.7 2177.2l3.7 3.7 -3.7 3.7 -3.7 -3.7zM165.9 2177.2l3.7 3.7 -3.7 3.7 -3.7 -3.7zM169.1 2177.2l3.7 3.7 -3.7 3.7 -3.7 -3.7zM172.3 2177.2l3.7 3.7 -3.7 3.7 -3.7 -3.7zM175.5 2177.2l3.7 3.7 -3.7 3.7 -3.7 -3.7zM161 2183.6l3.7 3.7 -3.7 3.7 -3.7 -3.7zM164.5 2183.6l3.7 3.7 -3.7 3.7 -3.7 -3.7zM168 2183.6l3.7 3.7 -3.7 3.7 -3.7 -3.7zM171.5 2183.6l3.7 3.7 -3.7 3.7 -3.7 -3.7zM175 2183.6l3.7 3.7 -3.7 3.7 -3.7 -3.7z"/>
<rect x="200.25" y="2161.7" width="18.85" height="18.7" fill="#659896" stroke="#1a6edc" stroke-width="1.5"/>
<path d="M200.25 2170.9H219.1" stroke="#1a6edc" stroke-width="1.5" fill="none"/>
<path d="M209.3 2136.2H219.1V2186.7H209.3" stroke="#1a6edc" stroke-width="1.5" fill="none"/>
<path fill="#1a6edc" d="M224.5 2132.7l3.7 3.7 -3.7 3.7 -3.7 -3.7zM232.8 2145l3.7 3.7 -3.7 3.7 -3.7 -3.7zM224.5 2150.9l3.7 3.7 -3.7 3.7 -3.7 -3.7zM229.2 2150.3l3.7 3.7 -3.7 3.7 -3.7 -3.7zM232.8 2151.5l3.7 3.7 -3.7 3.7 -3.7 -3.7zM225.7 2157.4l3.7 3.7 -3.7 3.7 -3.7 -3.7zM228.6 2156.9l3.7 3.7 -3.7 3.7 -3.7 -3.7zM238.1 2157.4l3.7 3.7 -3.7 3.7 -3.7 -3.7zM239.9 2158.6l3.7 3.7 -3.7 3.7 -3.7 -3.7zM224.5 2163.4l3.7 3.7 -3.7 3.7 -3.7 -3.7zM229.2 2162.8l3.7 3.7 -3.7 3.7 -3.7 -3.7zM235.8 2163.4l3.7 3.7 -3.7 3.7 -3.7 -3.7zM238.7 2164l3.7 3.7 -3.7 3.7 -3.7 -3.7zM225.7 2169.9l3.7 3.7 -3.7 3.7 -3.7 -3.7zM231 2169.9l3.7 3.7 -3.7 3.7 -3.7 -3.7zM236.9 2169.3l3.7 3.7 -3.7 3.7 -3.7 -3.7zM242.3 2169.9l3.7 3.7 -3.7 3.7 -3.7 -3.7zM224.5 2176.5l3.7 3.7 -3.7 3.7 -3.7 -3.7zM229.2 2175.9l3.7 3.7 -3.7 3.7 -3.7 -3.7zM235.2 2177.1l3.7 3.7 -3.7 3.7 -3.7 -3.7zM239.9 2177.1l3.7 3.7 -3.7 3.7 -3.7 -3.7zM223.3 2183.6l3.7 3.7 -3.7 3.7 -3.7 -3.7zM228 2183.6l3.7 3.7 -3.7 3.7 -3.7 -3.7zM236.4 2183.6l3.7 3.7 -3.7 3.7 -3.7 -3.7zM238.7 2184.2l3.7 3.7 -3.7 3.7 -3.7 -3.7z"/>
<rect x="265.25" y="2027.7" width="19.45" height="16" fill="#659896" stroke="#37ab69" stroke-width="1.5"/>
<path d="M265.25 2034.2H284.7" stroke="#37ab69" stroke-width="1.5" fill="none"/>
<path d="M274.9 2015.2H284.7V2047.3H274.9" stroke="#37ab69" stroke-width="1.5" fill="none"/>
<path fill="#37ab69" d="M304.9 2010.3l3.7 3.7 -3.7 3.7 -3.7 -3.7zM303.7 2013.3l3.7 3.7 -3.7 3.7 -3.7 -3.7zM301.9 2016.3l3.7 3.7 -3.7 3.7 -3.7 -3.7zM293 2016.9l3.7 3.7 -3.7 3.7 -3.7 -3.7zM296.6 2016.9l3.7 3.7 -3.7 3.7 -3.7 -3.7zM299.6 2019.8l3.7 3.7 -3.7 3.7 -3.7 -3.7zM290.7 2021l3.7 3.7 -3.7 3.7 -3.7 -3.7zM294.2 2021.6l3.7 3.7 -3.7 3.7 -3.7 -3.7zM297.8 2022.2l3.7 3.7 -3.7 3.7 -3.7 -3.7zM303.1 2022.8l3.7 3.7 -3.7 3.7 -3.7 -3.7zM306.7 2022.8l3.7 3.7 -3.7 3.7 -3.7 -3.7zM309.1 2025.8l3.7 3.7 -3.7 3.7 -3.7 -3.7zM289.5 2025.8l3.7 3.7 -3.7 3.7 -3.7 -3.7zM293 2026.4l3.7 3.7 -3.7 3.7 -3.7 -3.7zM296.6 2027l3.7 3.7 -3.7 3.7 -3.7 -3.7zM300.2 2027l3.7 3.7 -3.7 3.7 -3.7 -3.7zM303.7 2027l3.7 3.7 -3.7 3.7 -3.7 -3.7zM307.3 2030.5l3.7 3.7 -3.7 3.7 -3.7 -3.7zM309.1 2029.3l3.7 3.7 -3.7 3.7 -3.7 -3.7zM304.9 2032.3l3.7 3.7 -3.7 3.7 -3.7 -3.7zM289.5 2031.1l3.7 3.7 -3.7 3.7 -3.7 -3.7zM293 2031.1l3.7 3.7 -3.7 3.7 -3.7 -3.7zM296.6 2031.7l3.7 3.7 -3.7 3.7 -3.7 -3.7zM300.2 2031.7l3.7 3.7 -3.7 3.7 -3.7 -3.7zM288.3 2035.3l3.7 3.7 -3.7 3.7 -3.7 -3.7zM291.8 2035.9l3.7 3.7 -3.7 3.7 -3.7 -3.7zM295.4 2036.5l3.7 3.7 -3.7 3.7 -3.7 -3.7zM299 2036.5l3.7 3.7 -3.7 3.7 -3.7 -3.7zM302 2036.5l3.7 3.7 -3.7 3.7 -3.7 -3.7zM288.3 2039.4l3.7 3.7 -3.7 3.7 -3.7 -3.7zM291.2 2040l3.7 3.7 -3.7 3.7 -3.7 -3.7zM294.8 2040l3.7 3.7 -3.7 3.7 -3.7 -3.7zM287.1 2041.2l3.7 3.7 -3.7 3.7 -3.7 -3.7zM290.7 2043.6l3.7 3.7 -3.7 3.7 -3.7 -3.7zM294.2 2043.6l3.7 3.7 -3.7 3.7 -3.7 -3.7zM286.5 2038.9l3.7 3.7 -3.7 3.7 -3.7 -3.7z"/>
<rect x="330.85" y="1945.4" width="18.85" height="19.1" fill="#659896" stroke="#b274de" stroke-width="1.5"/>
<path d="M330.85 1956.5H349.7" stroke="#b274de" stroke-width="1.5" fill="none"/>
<path d="M339.9 1930.7H349.7V1977.3H339.9" stroke="#b274de" stroke-width="1.5" fill="none"/>
<path fill="#b274de" d="M358 1926.6l3.7 3.7 -3.7 3.7 -3.7 -3.7zM356.8 1929.6l3.7 3.7 -3.7 3.7 -3.7 -3.7zM355.7 1933.8l3.7 3.7 -3.7 3.7 -3.7 -3.7zM359.8 1933.8l3.7 3.7 -3.7 3.7 -3.7 -3.7zM354.5 1940.3l3.7 3.7 -3.7 3.7 -3.7 -3.7zM359.2 1940.9l3.7 3.7 -3.7 3.7 -3.7 -3.7zM361 1942.1l3.7 3.7 -3.7 3.7 -3.7 -3.7zM356.8 1943.9l3.7 3.7 -3.7 3.7 -3.7 -3.7zM353.9 1973.6l3.7 3.7 -3.7 3.7 -3.7 -3.7zM355.06 1948.04l3.7 3.7 -3.7 3.7 -3.7 -3.7zM362.19 1947.45l3.7 3.7 -3.7 3.7 -3.7 -3.7zM366.35 1946.26l3.7 3.7 -3.7 3.7 -3.7 -3.7zM369.92 1946.85l3.7 3.7 -3.7 3.7 -3.7 -3.7zM373.48 1948.04l3.7 3.7 -3.7 3.7 -3.7 -3.7zM356.84 1952.2l3.7 3.7 -3.7 3.7 -3.7 -3.7zM361 1951.61l3.7 3.7 -3.7 3.7 -3.7 -3.7zM365.76 1952.8l3.7 3.7 -3.7 3.7 -3.7 -3.7zM371.11 1952.2l3.7 3.7 -3.7 3.7 -3.7 -3.7zM355.06 1956.36l3.7 3.7 -3.7 3.7 -3.7 -3.7zM359.22 1956.36l3.7 3.7 -3.7 3.7 -3.7 -3.7zM362.79 1956.95l3.7 3.7 -3.7 3.7 -3.7 -3.7zM367.54 1956.95l3.7 3.7 -3.7 3.7 -3.7 -3.7zM371.11 1957.55l3.7 3.7 -3.7 3.7 -3.7 -3.7zM355.65 1961.11l3.7 3.7 -3.7 3.7 -3.7 -3.7zM360.41 1961.11l3.7 3.7 -3.7 3.7 -3.7 -3.7zM365.16 1961.71l3.7 3.7 -3.7 3.7 -3.7 -3.7zM369.92 1961.11l3.7 3.7 -3.7 3.7 -3.7 -3.7zM373.48 1961.71l3.7 3.7 -3.7 3.7 -3.7 -3.7zM354.47 1964.68l3.7 3.7 -3.7 3.7 -3.7 -3.7zM358.03 1965.27l3.7 3.7 -3.7 3.7 -3.7 -3.7zM362.79 1964.68l3.7 3.7 -3.7 3.7 -3.7 -3.7zM366.95 1964.09l3.7 3.7 -3.7 3.7 -3.7 -3.7z"/>
<rect x="395.85" y="1844.2" width="19.15" height="12.5" fill="#659896" stroke="#cd9700" stroke-width="1.5"/>
<path d="M395.85 1850.4H415" stroke="#cd9700" stroke-width="1.5" fill="none"/>
<path d="M405.2 1830.6H415V1873.2H405.2" stroke="#cd9700" stroke-width="1.5" fill="none"/>
<path fill="#cd9700" d="M419.2 1814.6l3.7 3.7 -3.7 3.7 -3.7 -3.7zM425.4 1826.3l3.7 3.7 -3.7 3.7 -3.7 -3.7zM433.7 1826.9l3.7 3.7 -3.7 3.7 -3.7 -3.7zM423.6 1833.4l3.7 3.7 -3.7 3.7 -3.7 -3.7zM429 1832.8l3.7 3.7 -3.7 3.7 -3.7 -3.7zM432.5 1835.8l3.7 3.7 -3.7 3.7 -3.7 -3.7zM420.7 1839.3l3.7 3.7 -3.7 3.7 -3.7 -3.7zM425.4 1839.3l3.7 3.7 -3.7 3.7 -3.7 -3.7zM430.2 1838.1l3.7 3.7 -3.7 3.7 -3.7 -3.7zM434.9 1838.1l3.7 3.7 -3.7 3.7 -3.7 -3.7zM437.9 1841.7l3.7 3.7 -3.7 3.7 -3.7 -3.7zM419.5 1844.1l3.7 3.7 -3.7 3.7 -3.7 -3.7zM423 1844.7l3.7 3.7 -3.7 3.7 -3.7 -3.7zM427.2 1844.1l3.7 3.7 -3.7 3.7 -3.7 -3.7zM431.4 1845.3l3.7 3.7 -3.7 3.7 -3.7 -3.7zM434.9 1844.7l3.7 3.7 -3.7 3.7 -3.7 -3.7zM418.3 1849.4l3.7 3.7 -3.7 3.7 -3.7 -3.7zM421.8 1848.8l3.7 3.7 -3.7 3.7 -3.7 -3.7zM426 1850l3.7 3.7 -3.7 3.7 -3.7 -3.7zM430.2 1849.4l3.7 3.7 -3.7 3.7 -3.7 -3.7zM433.7 1848.8l3.7 3.7 -3.7 3.7 -3.7 -3.7zM437.3 1852.4l3.7 3.7 -3.7 3.7 -3.7 -3.7zM423 1858.2l3.7 3.7 -3.7 3.7 -3.7 -3.7zM432.5 1859.4l3.7 3.7 -3.7 3.7 -3.7 -3.7zM420.7 1862.3l3.7 3.7 -3.7 3.7 -3.7 -3.7zM425.4 1865.3l3.7 3.7 -3.7 3.7 -3.7 -3.7zM426.6 1867.7l3.7 3.7 -3.7 3.7 -3.7 -3.7zM433.7 1869.5l3.7 3.7 -3.7 3.7 -3.7 -3.7zM420.4 1878.4l3.7 3.7 -3.7 3.7 -3.7 -3.7z"/>
<rect x="461.25" y="1891.1" width="18.75" height="9.9" fill="#659896" stroke="#02cbcc" stroke-width="1.5"/>
<path d="M461.25 1895.7H480" stroke="#02cbcc" stroke-width="1.5" fill="none"/>
<path d="M470.2 1875.5H480V1914.1H470.2" stroke="#02cbcc" stroke-width="1.5" fill="none"/>
<path fill="#02cbcc" d="M485.1 1871.2l3.7 3.7 -3.7 3.7 -3.7 -3.7zM483.9 1878.3l3.7 3.7 -3.7 3.7 -3.7 -3.7zM484.5 1910.4l3.7 3.7 -3.7 3.7 -3.7 -3.7zM486.84 1882.45l3.7 3.7 -3.7 3.7 -3.7 -3.7zM491 1881.85l3.7 3.7 -3.7 3.7 -3.7 -3.7zM495.16 1883.64l3.7 3.7 -3.7 3.7 -3.7 -3.7zM501.11 1881.85l3.7 3.7 -3.7 3.7 -3.7 -3.7zM504.08 1883.64l3.7 3.7 -3.7 3.7 -3.7 -3.7zM485.65 1887.2l3.7 3.7 -3.7 3.7 -3.7 -3.7zM490.41 1886.61l3.7 3.7 -3.7 3.7 -3.7 -3.7zM495.16 1887.2l3.7 3.7 -3.7 3.7 -3.7 -3.7zM499.92 1886.61l3.7 3.7 -3.7 3.7 -3.7 -3.7zM503.48 1888.39l3.7 3.7 -3.7 3.7 -3.7 -3.7zM485.06 1891.36l3.7 3.7 -3.7 3.7 -3.7 -3.7zM489.22 1891.95l3.7 3.7 -3.7 3.7 -3.7 -3.7zM493.38 1891.95l3.7 3.7 -3.7 3.7 -3.7 -3.7zM497.54 1890.77l3.7 3.7 -3.7 3.7 -3.7 -3.7zM502.29 1891.95l3.7 3.7 -3.7 3.7 -3.7 -3.7zM504.67 1892.55l3.7 3.7 -3.7 3.7 -3.7 -3.7zM485.65 1896.11l3.7 3.7 -3.7 3.7 -3.7 -3.7zM490.41 1896.11l3.7 3.7 -3.7 3.7 -3.7 -3.7zM494.57 1895.52l3.7 3.7 -3.7 3.7 -3.7 -3.7zM499.92 1896.71l3.7 3.7 -3.7 3.7 -3.7 -3.7zM504.08 1897.3l3.7 3.7 -3.7 3.7 -3.7 -3.7zM486.25 1900.27l3.7 3.7 -3.7 3.7 -3.7 -3.7zM490.41 1901.46l3.7 3.7 -3.7 3.7 -3.7 -3.7zM494.57 1900.87l3.7 3.7 -3.7 3.7 -3.7 -3.7zM498.13 1903.25l3.7 3.7 -3.7 3.7 -3.7 -3.7zM491 1904.43l3.7 3.7 -3.7 3.7 -3.7 -3.7zM496.35 1905.03l3.7 3.7 -3.7 3.7 -3.7 -3.7z"/>
<rect x="526.45" y="1850.3" width="18.95" height="13.1" fill="#659896" stroke="#7e4d4d" stroke-width="1.5"/>
<path d="M526.45 1856.6H545.4" stroke="#7e4d4d" stroke-width="1.5" fill="none"/>
<path d="M535.6 1837.8H545.4V1882H535.6" stroke="#7e4d4d" stroke-width="1.5" fill="none"/>
<path fill="#7e4d4d" d="M550.41 1825.81l3.7 3.7 -3.7 3.7 -3.7 -3.7zM549.81 1832.94l3.7 3.7 -3.7 3.7 -3.7 -3.7zM552.79 1835.32l3.7 3.7 -3.7 3.7 -3.7 -3.7zM555.76 1838.29l3.7 3.7 -3.7 3.7 -3.7 -3.7zM551 1840.66l3.7 3.7 -3.7 3.7 -3.7 -3.7zM553.97 1845.42l3.7 3.7 -3.7 3.7 -3.7 -3.7zM550.41 1848.98l3.7 3.7 -3.7 3.7 -3.7 -3.7zM557.54 1848.39l3.7 3.7 -3.7 3.7 -3.7 -3.7zM561.11 1850.17l3.7 3.7 -3.7 3.7 -3.7 -3.7zM567.64 1851.36l3.7 3.7 -3.7 3.7 -3.7 -3.7zM569.42 1854.33l3.7 3.7 -3.7 3.7 -3.7 -3.7zM549.22 1853.14l3.7 3.7 -3.7 3.7 -3.7 -3.7zM552.79 1853.14l3.7 3.7 -3.7 3.7 -3.7 -3.7zM556.35 1855.52l3.7 3.7 -3.7 3.7 -3.7 -3.7zM559.92 1855.52l3.7 3.7 -3.7 3.7 -3.7 -3.7zM564.08 1854.33l3.7 3.7 -3.7 3.7 -3.7 -3.7zM565.86 1857.3l3.7 3.7 -3.7 3.7 -3.7 -3.7zM568.24 1855.52l3.7 3.7 -3.7 3.7 -3.7 -3.7zM551 1857.9l3.7 3.7 -3.7 3.7 -3.7 -3.7zM555.16 1859.68l3.7 3.7 -3.7 3.7 -3.7 -3.7zM562.29 1860.27l3.7 3.7 -3.7 3.7 -3.7 -3.7zM564.67 1861.46l3.7 3.7 -3.7 3.7 -3.7 -3.7zM552.19 1864.43l3.7 3.7 -3.7 3.7 -3.7 -3.7zM556.95 1863.84l3.7 3.7 -3.7 3.7 -3.7 -3.7zM561.11 1865.03l3.7 3.7 -3.7 3.7 -3.7 -3.7zM564.08 1865.62l3.7 3.7 -3.7 3.7 -3.7 -3.7zM563.48 1870.97l3.7 3.7 -3.7 3.7 -3.7 -3.7zM565.86 1874.54l3.7 3.7 -3.7 3.7 -3.7 -3.7zM564.67 1878.7l3.7 3.7 -3.7 3.7 -3.7 -3.7z"/>
<path d="M59.8 1786.3V2232.3" stroke="#111" stroke-width="2" fill="none"/>
<path d="M55.8 2231.3H582" stroke="#111" stroke-width="2" fill="none"/>
<path d="M51.6 2199.9H59.8M55.4 2168.08H59.8M51.6 2136.27H59.8M55.4 2104.45H59.8M51.6 2072.64H59.8M55.4 2040.82H59.8M51.6 2009.01H59.8M55.4 1977.19H59.8M51.6 1945.38H59.8M55.4 1913.56H59.8M51.6 1881.75H59.8M55.4 1849.93H59.8M51.6 1818.12H59.8M55.4 1786.3H59.8" stroke="#111" stroke-width="1.9" fill="none"/>
<text x="46" y="2205.55" text-anchor="end" font-size="17.6">0</text>
<text x="46" y="2141.92" text-anchor="end" font-size="17.6">10</text>
<text x="46" y="2078.29" text-anchor="end" font-size="17.6">20</text>
<text x="46" y="2014.66" text-anchor="end" font-size="17.6">30</text>
<text x="46" y="1951.03" text-anchor="end" font-size="17.6">40</text>
<text x="46" y="1887.4" text-anchor="end" font-size="17.6">50</text>
<text x="46" y="1823.77" text-anchor="end" font-size="17.6">60</text>
<path d="M92.2 2231.3v8.5M157.43 2231.3v8.5M222.66 2231.3v8.5M287.89 2231.3v8.5M353.12 2231.3v8.5M418.35 2231.3v8.5M483.58 2231.3v8.5M548.81 2231.3v8.5" stroke="#111" stroke-width="1.5" fill="none"/>
<text class="L" transform="translate(91.3 1821.8) scale(1.04 1)" font-size="31.5">E</text>
<text transform="translate(18.3 2008.6) rotate(-90) scale(1.0 1)" text-anchor="middle" font-size="23.2">Mitotic index (%)</text>
<text x="92.2" y="2260.5" text-anchor="middle" font-size="18.8">CK</text>
<text x="157.43" y="2260.5" text-anchor="middle" font-size="18.8">1h</text>
<text x="222.66" y="2260.5" text-anchor="middle" font-size="18.8">2h</text>
<text x="287.89" y="2260.5" text-anchor="middle" font-size="18.8">3h</text>
<text x="353.12" y="2260.5" text-anchor="middle" font-size="18.8">4h</text>
<text x="418.35" y="2260.5" text-anchor="middle" font-size="18.8">5h</text>
<text x="483.58" y="2260.5" text-anchor="middle" font-size="18.8">6h</text>
<text x="548.81" y="2260.5" text-anchor="middle" font-size="18.8">7h</text>
<text x="326" y="2288" text-anchor="middle" font-size="22">Duration of APM treatment (h)</text>
</svg>
</body></html>
